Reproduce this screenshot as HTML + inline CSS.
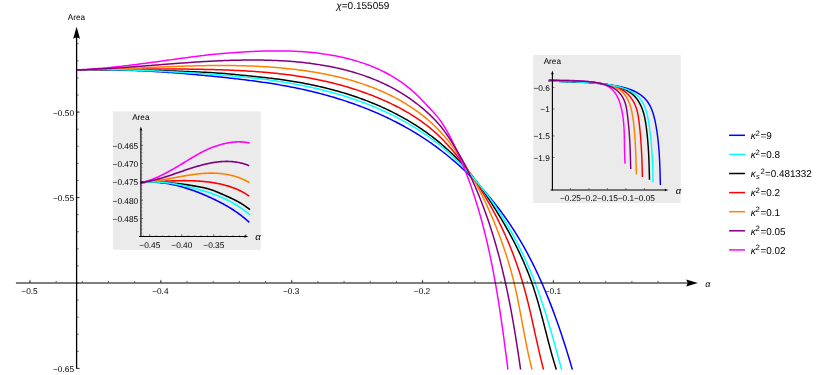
<!DOCTYPE html>
<html><head><meta charset="utf-8"><title>plot</title>
<style>html,body{margin:0;padding:0;background:#fff;}svg{display:block;}text{filter:grayscale(1);text-rendering:geometricPrecision;}text{font-family:"Liberation Sans",sans-serif;}</style></head>
<body>
<svg width="817" height="375" viewBox="0 0 817 375" font-family="Liberation Sans, sans-serif">
<rect width="100%" height="100%" fill="#fff"/>
<defs><clipPath id="cm"><rect x="0" y="0" width="817" height="369.7"/></clipPath></defs>
<text x="336.3" y="9.3" font-size="10" fill="#000"><tspan font-style="italic">χ</tspan>=0.155059</text>
<g fill="none" stroke-width="1.5" stroke-linejoin="round" clip-path="url(#cm)">
<path d="M76.80 69.88 L78.41 69.85 L80.01 69.81 L81.62 69.79 L83.22 69.76 L84.83 69.74 L86.43 69.72 L88.04 69.71 L89.64 69.69 L91.25 69.68 L92.85 69.68 L94.46 69.67 L96.06 69.67 L97.67 69.67 L99.27 69.68 L100.88 69.69 L102.48 69.70 L104.09 69.71 L105.69 69.73 L107.30 69.75 L108.90 69.77 L110.51 69.80 L112.11 69.83 L113.71 69.86 L115.32 69.89 L116.92 69.93 L118.53 69.96 L120.13 70.01 L121.73 70.05 L123.34 70.10 L124.94 70.15 L126.54 70.20 L128.15 70.25 L129.75 70.31 L131.35 70.37 L132.96 70.43 L134.56 70.50 L136.16 70.56 L137.76 70.63 L139.37 70.70 L140.97 70.78 L142.57 70.86 L144.17 70.93 L145.77 71.02 L147.38 71.10 L148.98 71.19 L150.58 71.27 L152.18 71.36 L153.78 71.46 L155.38 71.55 L156.98 71.65 L158.59 71.75 L160.19 71.85 L161.79 71.95 L163.39 72.06 L164.99 72.17 L166.59 72.28 L168.19 72.39 L169.79 72.50 L171.39 72.62 L172.99 72.74 L174.59 72.86 L176.18 72.98 L177.78 73.10 L179.38 73.23 L180.98 73.36 L182.58 73.49 L184.18 73.62 L185.78 73.75 L187.37 73.89 L188.97 74.02 L190.57 74.16 L192.17 74.30 L193.76 74.45 L195.36 74.59 L196.96 74.74 L198.55 74.88 L200.15 75.03 L201.75 75.18 L203.34 75.34 L204.94 75.49 L206.54 75.64 L208.13 75.80 L209.73 75.96 L211.32 76.12 L212.92 76.28 L214.51 76.44 L216.11 76.61 L217.70 76.77 L219.29 76.94 L220.89 77.11 L222.48 77.28 L224.08 77.45 L225.67 77.62 L227.26 77.80 L228.85 77.97 L230.45 78.15 L232.04 78.33 L233.63 78.51 L235.22 78.69 L236.81 78.88 L238.41 79.06 L240.00 79.25 L241.59 79.44 L243.18 79.63 L244.77 79.83 L246.36 80.03 L247.95 80.22 L249.53 80.43 L251.12 80.63 L252.71 80.84 L254.30 81.05 L255.89 81.26 L257.47 81.48 L259.06 81.70 L260.64 81.92 L262.23 82.15 L263.81 82.38 L265.40 82.61 L266.98 82.85 L268.57 83.09 L270.15 83.33 L271.73 83.58 L273.31 83.83 L274.89 84.09 L276.47 84.35 L278.05 84.61 L279.63 84.88 L281.21 85.16 L282.79 85.43 L284.37 85.71 L285.95 86.00 L287.52 86.29 L289.10 86.59 L290.67 86.89 L292.25 87.20 L293.82 87.51 L295.39 87.82 L296.97 88.14 L298.54 88.47 L300.11 88.80 L301.68 89.14 L303.25 89.48 L304.82 89.83 L306.38 90.18 L307.95 90.54 L309.52 90.91 L311.08 91.28 L312.64 91.66 L314.21 92.04 L315.77 92.43 L317.33 92.82 L318.88 93.22 L320.44 93.62 L322.00 94.03 L323.55 94.45 L325.10 94.87 L326.66 95.30 L328.21 95.74 L329.75 96.18 L331.30 96.62 L332.84 97.07 L334.39 97.53 L335.93 98.00 L337.47 98.47 L339.00 98.94 L340.54 99.42 L342.07 99.91 L343.60 100.41 L345.13 100.91 L346.66 101.41 L348.18 101.93 L349.71 102.45 L351.23 102.97 L352.74 103.50 L354.26 104.04 L355.77 104.59 L357.28 105.14 L358.79 105.69 L360.29 106.26 L361.80 106.83 L363.30 107.40 L364.79 107.99 L366.29 108.58 L367.78 109.17 L369.27 109.77 L370.75 110.38 L372.23 111.00 L373.71 111.62 L375.19 112.25 L376.66 112.89 L378.13 113.53 L379.60 114.18 L381.06 114.84 L382.52 115.50 L383.98 116.17 L385.43 116.84 L386.88 117.53 L388.33 118.22 L389.77 118.91 L391.21 119.62 L392.64 120.33 L394.08 121.05 L395.50 121.77 L396.93 122.51 L398.35 123.24 L399.76 123.99 L401.18 124.74 L402.58 125.50 L403.99 126.27 L405.39 127.05 L406.78 127.83 L408.17 128.62 L409.56 129.42 L410.94 130.22 L412.32 131.03 L413.70 131.85 L415.07 132.67 L416.43 133.51 L417.79 134.35 L419.15 135.20 L420.50 136.05 L421.85 136.92 L423.19 137.79 L424.53 138.66 L425.86 139.55 L427.19 140.44 L428.51 141.34 L429.83 142.25 L431.14 143.17 L432.45 144.09 L433.75 145.02 L435.05 145.96 L436.34 146.90 L437.63 147.85 L438.91 148.81 L440.18 149.78 L441.46 150.75 L442.72 151.73 L443.99 152.72 L445.24 153.71 L446.49 154.72 L447.74 155.72 L448.98 156.74 L450.21 157.76 L451.44 158.79 L452.67 159.82 L453.89 160.86 L455.10 161.91 L456.31 162.96 L457.51 164.03 L458.71 165.09 L459.90 166.17 L461.09 167.25 L462.27 168.33 L463.44 169.43 L464.61 170.52 L465.77 171.63 L466.93 172.74 L468.08 173.86 L469.23 174.98 L470.37 176.11 L471.50 177.25 L472.63 178.39 L473.76 179.53 L474.87 180.69 L475.98 181.85 L477.09 183.01 L478.19 184.18 L479.28 185.36 L480.37 186.54 L481.45 187.73 L482.53 188.92 L483.60 190.12 L484.66 191.32 L485.72 192.53 L486.77 193.74 L487.81 194.96 L488.85 196.19 L489.88 197.42 L490.91 198.66 L491.93 199.90 L492.94 201.14 L493.95 202.39 L494.95 203.65 L495.94 204.91 L496.93 206.17 L497.91 207.45 L498.88 208.72 L499.85 210.00 L500.81 211.29 L501.77 212.58 L502.72 213.87 L503.66 215.17 L504.59 216.47 L505.52 217.78 L506.45 219.10 L507.36 220.41 L508.27 221.73 L509.17 223.06 L510.07 224.39 L510.95 225.73 L511.84 227.06 L512.71 228.41 L513.58 229.75 L514.44 231.11 L515.29 232.46 L516.14 233.82 L516.98 235.18 L517.82 236.55 L518.65 237.92 L519.47 239.30 L520.29 240.68 L521.10 242.06 L521.90 243.45 L522.70 244.84 L523.49 246.23 L524.27 247.63 L525.05 249.03 L525.83 250.43 L526.59 251.84 L527.36 253.25 L528.11 254.66 L528.86 256.08 L529.61 257.50 L530.34 258.92 L531.08 260.35 L531.80 261.78 L532.52 263.21 L533.24 264.65 L533.95 266.09 L534.66 267.53 L535.36 268.97 L536.05 270.42 L536.74 271.87 L537.42 273.32 L538.10 274.78 L538.78 276.24 L539.44 277.70 L540.11 279.16 L540.77 280.62 L541.42 282.09 L542.07 283.56 L542.71 285.03 L543.35 286.51 L543.98 287.99 L544.61 289.46 L545.24 290.95 L545.86 292.43 L546.47 293.91 L547.08 295.40 L547.69 296.89 L548.29 298.38 L548.89 299.87 L549.48 301.37 L550.07 302.86 L550.66 304.36 L551.24 305.86 L551.81 307.36 L552.38 308.87 L552.95 310.37 L553.52 311.88 L554.08 313.38 L554.63 314.89 L555.18 316.40 L555.73 317.91 L556.28 319.42 L556.82 320.94 L557.36 322.45 L557.89 323.97 L558.42 325.48 L558.95 327.00 L559.47 328.52 L559.99 330.04 L560.50 331.56 L561.02 333.08 L561.53 334.60 L562.03 336.12 L562.53 337.65 L563.03 339.17 L563.53 340.69 L564.02 342.22 L564.51 343.74 L565.00 345.27 L565.49 346.80 L565.97 348.32 L566.45 349.85 L566.92 351.38 L567.39 352.90 L567.86 354.43 L568.33 355.96 L568.80 357.48 L569.26 359.01 L569.72 360.54 L570.18 362.06 L570.63 363.59 L571.08 365.12 L571.53 366.64 L571.98 368.17 L572.43 369.69" stroke="#0000ff"/>
<path d="M76.80 69.89 L78.40 69.87 L80.00 69.85 L81.59 69.84 L83.19 69.82 L84.79 69.80 L86.39 69.79 L87.99 69.78 L89.58 69.77 L91.18 69.76 L92.78 69.75 L94.38 69.74 L95.98 69.74 L97.57 69.74 L99.17 69.73 L100.77 69.73 L102.37 69.73 L103.97 69.73 L105.56 69.74 L107.16 69.74 L108.76 69.75 L110.36 69.75 L111.96 69.76 L113.55 69.77 L115.15 69.78 L116.75 69.80 L118.35 69.81 L119.95 69.82 L121.54 69.84 L123.14 69.86 L124.74 69.88 L126.34 69.90 L127.94 69.92 L129.53 69.94 L131.13 69.96 L132.73 69.99 L134.33 70.01 L135.93 70.04 L137.52 70.07 L139.12 70.10 L140.72 70.13 L142.32 70.16 L143.91 70.20 L145.51 70.23 L147.11 70.27 L148.71 70.30 L150.30 70.34 L151.90 70.38 L153.50 70.42 L155.10 70.46 L156.69 70.50 L158.29 70.55 L159.89 70.59 L161.49 70.64 L163.08 70.68 L164.68 70.73 L166.28 70.78 L167.88 70.83 L169.47 70.88 L171.07 70.94 L172.67 70.99 L174.27 71.04 L175.86 71.10 L177.46 71.16 L179.06 71.21 L180.65 71.27 L182.25 71.33 L183.85 71.39 L185.45 71.46 L187.04 71.52 L188.64 71.58 L190.24 71.65 L191.83 71.71 L193.43 71.78 L195.03 71.85 L196.62 71.92 L198.22 71.99 L199.82 72.06 L201.41 72.13 L203.01 72.21 L204.61 72.28 L206.20 72.36 L207.80 72.45 L209.39 72.53 L210.99 72.62 L212.58 72.71 L214.18 72.81 L215.77 72.91 L217.37 73.02 L218.96 73.13 L220.56 73.24 L222.15 73.36 L223.74 73.49 L225.33 73.62 L226.93 73.76 L228.52 73.90 L230.11 74.04 L231.70 74.19 L233.29 74.34 L234.88 74.50 L236.47 74.66 L238.06 74.81 L239.65 74.97 L241.24 75.13 L242.83 75.29 L244.41 75.45 L246.00 75.61 L247.59 75.77 L249.18 75.93 L250.76 76.09 L252.35 76.25 L253.93 76.41 L255.52 76.57 L257.11 76.74 L258.69 76.90 L260.28 77.07 L261.86 77.24 L263.45 77.41 L265.03 77.59 L266.62 77.76 L268.20 77.94 L269.78 78.13 L271.37 78.32 L272.95 78.51 L274.54 78.70 L276.12 78.90 L277.70 79.11 L279.29 79.32 L280.87 79.53 L282.45 79.75 L284.04 79.98 L285.62 80.21 L287.20 80.45 L288.79 80.69 L290.37 80.94 L291.95 81.19 L293.53 81.45 L295.11 81.71 L296.69 81.98 L298.27 82.25 L299.85 82.54 L301.43 82.82 L303.01 83.11 L304.58 83.41 L306.16 83.72 L307.73 84.03 L309.31 84.34 L310.88 84.66 L312.45 84.99 L314.02 85.32 L315.59 85.66 L317.16 86.01 L318.72 86.36 L320.29 86.72 L321.85 87.09 L323.41 87.46 L324.97 87.84 L326.53 88.22 L328.08 88.61 L329.64 89.01 L331.19 89.41 L332.74 89.82 L334.29 90.24 L335.84 90.66 L337.38 91.09 L338.92 91.53 L340.46 91.97 L342.00 92.42 L343.54 92.88 L345.07 93.34 L346.60 93.82 L348.13 94.29 L349.65 94.78 L351.18 95.27 L352.70 95.77 L354.21 96.28 L355.73 96.79 L357.24 97.31 L358.75 97.84 L360.26 98.38 L361.76 98.92 L363.26 99.47 L364.76 100.03 L366.25 100.60 L367.74 101.17 L369.23 101.75 L370.71 102.34 L372.19 102.94 L373.67 103.54 L375.14 104.15 L376.61 104.77 L378.08 105.40 L379.54 106.04 L381.00 106.68 L382.46 107.33 L383.91 107.99 L385.36 108.66 L386.80 109.33 L388.24 110.02 L389.67 110.71 L391.11 111.41 L392.53 112.12 L393.95 112.84 L395.37 113.56 L396.79 114.29 L398.20 115.04 L399.60 115.79 L401.00 116.55 L402.40 117.31 L403.79 118.09 L405.18 118.88 L406.56 119.67 L407.93 120.47 L409.31 121.28 L410.67 122.10 L412.03 122.93 L413.39 123.77 L414.74 124.62 L416.09 125.47 L417.43 126.34 L418.77 127.21 L420.10 128.09 L421.42 128.99 L422.74 129.89 L424.06 130.80 L425.37 131.72 L426.67 132.65 L427.97 133.59 L429.26 134.53 L430.54 135.49 L431.82 136.45 L433.09 137.43 L434.36 138.41 L435.62 139.40 L436.87 140.40 L438.12 141.41 L439.36 142.43 L440.59 143.45 L441.81 144.49 L443.03 145.53 L444.24 146.58 L445.45 147.64 L446.64 148.70 L447.83 149.78 L449.01 150.86 L450.18 151.95 L451.35 153.05 L452.50 154.16 L453.65 155.27 L454.79 156.40 L455.93 157.53 L457.05 158.66 L458.16 159.81 L459.27 160.96 L460.37 162.12 L461.46 163.29 L462.54 164.47 L463.61 165.65 L464.67 166.84 L465.72 168.04 L466.76 169.24 L467.80 170.46 L468.82 171.67 L469.83 172.90 L470.84 174.13 L471.83 175.37 L472.82 176.62 L473.80 177.87 L474.77 179.13 L475.73 180.39 L476.68 181.66 L477.63 182.94 L478.57 184.22 L479.50 185.51 L480.42 186.80 L481.34 188.09 L482.26 189.39 L483.16 190.70 L484.07 192.00 L484.96 193.32 L485.85 194.63 L486.74 195.95 L487.62 197.28 L488.50 198.61 L489.38 199.94 L490.25 201.27 L491.11 202.60 L491.98 203.94 L492.84 205.29 L493.69 206.63 L494.55 207.98 L495.40 209.33 L496.24 210.68 L497.08 212.04 L497.92 213.39 L498.75 214.76 L499.58 216.12 L500.40 217.49 L501.22 218.86 L502.04 220.23 L502.85 221.61 L503.66 222.98 L504.46 224.37 L505.26 225.75 L506.05 227.14 L506.84 228.53 L507.62 229.92 L508.40 231.32 L509.17 232.71 L509.93 234.12 L510.69 235.52 L511.45 236.93 L512.20 238.34 L512.94 239.75 L513.68 241.17 L514.41 242.59 L515.14 244.01 L515.86 245.44 L516.57 246.86 L517.28 248.29 L517.98 249.73 L518.68 251.17 L519.36 252.61 L520.05 254.05 L520.72 255.50 L521.39 256.95 L522.05 258.40 L522.70 259.85 L523.35 261.31 L523.99 262.77 L524.62 264.24 L525.24 265.71 L525.86 267.18 L526.47 268.65 L527.07 270.13 L527.67 271.61 L528.25 273.09 L528.83 274.58 L529.40 276.07 L529.97 277.56 L530.52 279.05 L531.06 280.55 L531.60 282.05 L532.13 283.56 L532.65 285.07 L533.16 286.58 L533.67 288.09 L534.16 289.61 L534.65 291.13 L535.14 292.65 L535.61 294.17 L536.08 295.70 L536.54 297.23 L537.00 298.76 L537.45 300.29 L537.90 301.83 L538.34 303.37 L538.77 304.91 L539.21 306.45 L539.63 307.99 L540.06 309.53 L540.48 311.08 L540.89 312.62 L541.31 314.17 L541.72 315.72 L542.12 317.26 L542.53 318.81 L542.93 320.36 L543.33 321.92 L543.73 323.47 L544.13 325.02 L544.53 326.57 L544.92 328.12 L545.32 329.67 L545.72 331.23 L546.11 332.78 L546.51 334.33 L546.91 335.88 L547.31 337.43 L547.71 338.98 L548.11 340.53 L548.51 342.08 L548.92 343.63 L549.32 345.17 L549.73 346.72 L550.15 348.26 L550.56 349.81 L550.98 351.35 L551.41 352.89 L551.84 354.43 L552.27 355.96 L552.70 357.50 L553.15 359.03 L553.59 360.56 L554.04 362.09 L554.50 363.62 L554.97 365.14 L555.43 366.66 L555.91 368.18 L556.39 369.70" stroke="#000000"/>
<path d="M76.80 69.89 L78.40 69.87 L79.99 69.85 L81.59 69.84 L83.18 69.82 L84.78 69.80 L86.38 69.78 L87.97 69.76 L89.57 69.74 L91.17 69.72 L92.76 69.70 L94.36 69.67 L95.96 69.65 L97.55 69.63 L99.15 69.61 L100.75 69.59 L102.34 69.57 L103.94 69.55 L105.54 69.53 L107.14 69.51 L108.73 69.49 L110.33 69.47 L111.93 69.45 L113.52 69.42 L115.12 69.40 L116.72 69.38 L118.32 69.37 L119.91 69.35 L121.51 69.33 L123.11 69.31 L124.71 69.29 L126.31 69.27 L127.90 69.25 L129.50 69.24 L131.10 69.22 L132.70 69.20 L134.29 69.19 L135.89 69.17 L137.49 69.16 L139.09 69.14 L140.68 69.13 L142.28 69.12 L143.88 69.11 L145.48 69.10 L147.08 69.08 L148.67 69.07 L150.27 69.07 L151.87 69.06 L153.47 69.05 L155.06 69.04 L156.66 69.04 L158.26 69.03 L159.86 69.03 L161.46 69.02 L163.05 69.02 L164.65 69.02 L166.25 69.02 L167.85 69.02 L169.44 69.02 L171.04 69.03 L172.64 69.03 L174.24 69.04 L175.83 69.04 L177.43 69.05 L179.03 69.06 L180.62 69.07 L182.22 69.08 L183.82 69.09 L185.42 69.11 L187.01 69.12 L188.61 69.14 L190.21 69.16 L191.80 69.18 L193.40 69.20 L195.00 69.22 L196.59 69.25 L198.19 69.27 L199.79 69.30 L201.38 69.33 L202.98 69.36 L204.58 69.39 L206.17 69.42 L207.77 69.46 L209.36 69.50 L210.96 69.54 L212.56 69.58 L214.15 69.62 L215.75 69.67 L217.34 69.71 L218.94 69.76 L220.53 69.81 L222.13 69.87 L223.73 69.92 L225.32 69.98 L226.92 70.04 L228.51 70.10 L230.11 70.17 L231.70 70.24 L233.30 70.31 L234.90 70.38 L236.49 70.45 L238.09 70.53 L239.68 70.61 L241.28 70.69 L242.87 70.78 L244.47 70.87 L246.06 70.96 L247.66 71.05 L249.26 71.15 L250.85 71.25 L252.45 71.35 L254.04 71.46 L255.64 71.57 L257.23 71.68 L258.83 71.80 L260.42 71.92 L262.01 72.04 L263.61 72.17 L265.20 72.30 L266.79 72.44 L268.38 72.58 L269.98 72.73 L271.57 72.88 L273.16 73.03 L274.75 73.19 L276.34 73.36 L277.93 73.53 L279.52 73.70 L281.10 73.88 L282.69 74.07 L284.28 74.26 L285.86 74.45 L287.45 74.66 L289.03 74.86 L290.62 75.07 L292.20 75.29 L293.78 75.52 L295.36 75.75 L296.94 75.98 L298.52 76.22 L300.09 76.47 L301.67 76.72 L303.25 76.98 L304.82 77.24 L306.39 77.51 L307.96 77.79 L309.53 78.07 L311.10 78.36 L312.67 78.66 L314.24 78.96 L315.80 79.27 L317.36 79.58 L318.92 79.90 L320.48 80.23 L322.04 80.56 L323.60 80.90 L325.16 81.25 L326.71 81.60 L328.26 81.96 L329.81 82.33 L331.36 82.70 L332.91 83.08 L334.45 83.47 L336.00 83.86 L337.54 84.26 L339.08 84.67 L340.61 85.09 L342.15 85.51 L343.68 85.94 L345.21 86.38 L346.74 86.83 L348.27 87.28 L349.79 87.74 L351.32 88.20 L352.84 88.68 L354.36 89.16 L355.87 89.65 L357.39 90.15 L358.90 90.66 L360.41 91.17 L361.91 91.69 L363.42 92.22 L364.92 92.76 L366.42 93.30 L367.91 93.85 L369.41 94.42 L370.90 94.99 L372.39 95.56 L373.87 96.15 L375.35 96.74 L376.84 97.35 L378.31 97.96 L379.79 98.58 L381.26 99.20 L382.73 99.84 L384.19 100.49 L385.65 101.14 L387.11 101.80 L388.57 102.48 L390.02 103.16 L391.46 103.85 L392.90 104.55 L394.34 105.26 L395.77 105.98 L397.20 106.71 L398.62 107.45 L400.03 108.20 L401.44 108.96 L402.85 109.73 L404.24 110.51 L405.63 111.30 L407.02 112.10 L408.40 112.91 L409.77 113.73 L411.13 114.57 L412.49 115.41 L413.84 116.27 L415.18 117.13 L416.51 118.01 L417.83 118.90 L419.15 119.80 L420.46 120.71 L421.75 121.64 L423.04 122.58 L424.32 123.53 L425.60 124.49 L426.86 125.46 L428.11 126.45 L429.35 127.44 L430.58 128.45 L431.80 129.47 L433.01 130.51 L434.21 131.55 L435.40 132.61 L436.58 133.68 L437.75 134.76 L438.91 135.86 L440.06 136.96 L441.19 138.08 L442.32 139.21 L443.43 140.35 L444.54 141.50 L445.64 142.66 L446.72 143.82 L447.80 145.00 L448.87 146.19 L449.93 147.38 L450.98 148.58 L452.02 149.80 L453.05 151.01 L454.08 152.24 L455.09 153.47 L456.10 154.71 L457.11 155.96 L458.10 157.21 L459.09 158.47 L460.07 159.74 L461.04 161.01 L462.01 162.28 L462.97 163.56 L463.92 164.85 L464.87 166.14 L465.81 167.43 L466.75 168.73 L467.68 170.03 L468.60 171.33 L469.52 172.64 L470.44 173.94 L471.35 175.26 L472.25 176.57 L473.15 177.89 L474.05 179.21 L474.94 180.53 L475.82 181.86 L476.70 183.19 L477.57 184.52 L478.44 185.85 L479.30 187.19 L480.16 188.54 L481.01 189.88 L481.85 191.23 L482.69 192.58 L483.52 193.94 L484.35 195.29 L485.17 196.66 L485.99 198.02 L486.80 199.39 L487.60 200.76 L488.40 202.14 L489.20 203.52 L489.98 204.90 L490.76 206.29 L491.54 207.68 L492.31 209.07 L493.07 210.47 L493.82 211.87 L494.57 213.28 L495.32 214.69 L496.06 216.10 L496.79 217.52 L497.51 218.94 L498.23 220.36 L498.94 221.79 L499.65 223.22 L500.35 224.66 L501.04 226.09 L501.73 227.53 L502.41 228.98 L503.09 230.43 L503.76 231.88 L504.42 233.33 L505.08 234.79 L505.73 236.25 L506.37 237.71 L507.01 239.17 L507.64 240.64 L508.26 242.11 L508.88 243.59 L509.49 245.07 L510.10 246.55 L510.70 248.03 L511.29 249.51 L511.88 251.00 L512.46 252.49 L513.03 253.98 L513.60 255.48 L514.16 256.98 L514.72 258.48 L515.27 259.98 L515.81 261.48 L516.34 262.99 L516.87 264.50 L517.39 266.01 L517.91 267.52 L518.42 269.04 L518.92 270.56 L519.42 272.08 L519.91 273.60 L520.39 275.12 L520.87 276.64 L521.34 278.17 L521.81 279.70 L522.26 281.23 L522.72 282.76 L523.16 284.30 L523.60 285.83 L524.03 287.37 L524.46 288.90 L524.88 290.44 L525.29 291.98 L525.70 293.53 L526.11 295.07 L526.51 296.61 L526.90 298.16 L527.29 299.71 L527.68 301.26 L528.06 302.80 L528.44 304.35 L528.81 305.91 L529.19 307.46 L529.55 309.01 L529.92 310.56 L530.28 312.12 L530.64 313.67 L531.00 315.23 L531.35 316.78 L531.70 318.34 L532.06 319.90 L532.41 321.46 L532.75 323.01 L533.10 324.57 L533.45 326.13 L533.79 327.69 L534.14 329.25 L534.48 330.81 L534.82 332.37 L535.17 333.93 L535.51 335.49 L535.86 337.05 L536.20 338.61 L536.55 340.17 L536.90 341.73 L537.25 343.28 L537.60 344.84 L537.95 346.40 L538.30 347.96 L538.66 349.52 L539.02 351.07 L539.38 352.63 L539.74 354.19 L540.11 355.74 L540.48 357.30 L540.85 358.85 L541.23 360.40 L541.61 361.96 L542.00 363.51 L542.38 365.06 L542.78 366.61 L543.18 368.16 L543.58 369.71" stroke="#ff0000"/>
<path d="M76.80 69.85 L78.40 69.83 L80.00 69.81 L81.60 69.79 L83.19 69.76 L84.79 69.73 L86.39 69.70 L87.99 69.67 L89.59 69.64 L91.19 69.61 L92.79 69.57 L94.39 69.53 L95.99 69.49 L97.59 69.45 L99.19 69.40 L100.79 69.36 L102.39 69.31 L103.99 69.26 L105.59 69.21 L107.18 69.16 L108.78 69.10 L110.38 69.05 L111.98 68.99 L113.58 68.94 L115.18 68.88 L116.78 68.82 L118.38 68.76 L119.98 68.70 L121.58 68.64 L123.18 68.57 L124.78 68.51 L126.39 68.45 L127.99 68.38 L129.59 68.32 L131.19 68.25 L132.79 68.18 L134.39 68.12 L135.99 68.05 L137.59 67.98 L139.19 67.91 L140.79 67.85 L142.39 67.78 L143.99 67.71 L145.59 67.64 L147.19 67.57 L148.79 67.51 L150.39 67.44 L151.99 67.37 L153.59 67.30 L155.19 67.24 L156.79 67.17 L158.39 67.10 L159.99 67.04 L161.59 66.97 L163.20 66.91 L164.80 66.84 L166.40 66.78 L168.00 66.72 L169.60 66.66 L171.20 66.60 L172.80 66.54 L174.40 66.48 L176.00 66.42 L177.60 66.37 L179.20 66.31 L180.80 66.26 L182.40 66.21 L184.00 66.16 L185.60 66.11 L187.20 66.06 L188.80 66.01 L190.40 65.97 L192.00 65.92 L193.60 65.88 L195.20 65.84 L196.80 65.81 L198.40 65.77 L200.00 65.74 L201.60 65.70 L203.20 65.68 L204.80 65.65 L206.40 65.62 L208.00 65.60 L209.60 65.58 L211.20 65.56 L212.80 65.54 L214.40 65.53 L216.00 65.52 L217.60 65.51 L219.20 65.51 L220.80 65.50 L222.40 65.50 L224.00 65.51 L225.60 65.51 L227.19 65.52 L228.79 65.53 L230.39 65.55 L231.99 65.57 L233.59 65.59 L235.19 65.61 L236.79 65.64 L238.39 65.67 L239.99 65.71 L241.58 65.74 L243.18 65.79 L244.78 65.83 L246.38 65.88 L247.98 65.93 L249.57 65.99 L251.17 66.05 L252.77 66.11 L254.37 66.18 L255.97 66.25 L257.56 66.33 L259.16 66.41 L260.76 66.49 L262.36 66.58 L263.95 66.68 L265.55 66.77 L267.15 66.87 L268.74 66.98 L270.34 67.09 L271.94 67.21 L273.53 67.33 L275.13 67.45 L276.73 67.58 L278.32 67.72 L279.92 67.86 L281.51 68.00 L283.11 68.15 L284.71 68.30 L286.30 68.46 L287.90 68.63 L289.49 68.80 L291.09 68.97 L292.68 69.15 L294.28 69.34 L295.87 69.53 L297.47 69.73 L299.06 69.93 L300.66 70.14 L302.25 70.35 L303.85 70.57 L305.44 70.80 L307.03 71.03 L308.62 71.27 L310.22 71.51 L311.81 71.76 L313.40 72.02 L314.99 72.28 L316.57 72.55 L318.16 72.83 L319.75 73.11 L321.33 73.40 L322.91 73.70 L324.50 74.00 L326.08 74.31 L327.65 74.63 L329.23 74.96 L330.80 75.29 L332.38 75.63 L333.95 75.98 L335.52 76.33 L337.08 76.70 L338.65 77.07 L340.21 77.45 L341.77 77.83 L343.32 78.23 L344.88 78.63 L346.43 79.04 L347.97 79.46 L349.52 79.89 L351.06 80.33 L352.60 80.77 L354.13 81.23 L355.67 81.69 L357.19 82.16 L358.72 82.65 L360.24 83.14 L361.76 83.64 L363.27 84.15 L364.78 84.66 L366.29 85.19 L367.79 85.73 L369.29 86.28 L370.78 86.83 L372.27 87.40 L373.75 87.98 L375.23 88.56 L376.71 89.16 L378.18 89.77 L379.64 90.38 L381.10 91.01 L382.56 91.65 L384.01 92.30 L385.45 92.96 L386.89 93.63 L388.33 94.31 L389.76 95.00 L391.18 95.71 L392.60 96.42 L394.01 97.15 L395.42 97.88 L396.82 98.63 L398.21 99.39 L399.60 100.16 L400.98 100.95 L402.36 101.74 L403.73 102.55 L405.09 103.37 L406.45 104.20 L407.80 105.04 L409.14 105.90 L410.47 106.76 L411.80 107.64 L413.12 108.54 L414.44 109.44 L415.75 110.36 L417.05 111.29 L418.34 112.23 L419.62 113.19 L420.90 114.16 L422.17 115.14 L423.43 116.14 L424.69 117.14 L425.93 118.17 L427.17 119.20 L428.40 120.25 L429.61 121.31 L430.82 122.38 L432.01 123.47 L433.20 124.56 L434.37 125.67 L435.52 126.79 L436.67 127.92 L437.80 129.06 L438.91 130.21 L440.02 131.37 L441.10 132.55 L442.17 133.73 L443.23 134.92 L444.27 136.12 L445.30 137.34 L446.32 138.56 L447.33 139.78 L448.32 141.02 L449.30 142.27 L450.27 143.52 L451.23 144.78 L452.18 146.05 L453.12 147.33 L454.05 148.61 L454.98 149.91 L455.89 151.20 L456.80 152.51 L457.70 153.81 L458.59 155.13 L459.48 156.45 L460.36 157.78 L461.24 159.11 L462.11 160.44 L462.97 161.78 L463.83 163.13 L464.69 164.48 L465.54 165.83 L466.38 167.19 L467.22 168.55 L468.06 169.91 L468.88 171.28 L469.71 172.66 L470.52 174.03 L471.33 175.42 L472.13 176.80 L472.93 178.19 L473.72 179.58 L474.50 180.98 L475.28 182.38 L476.05 183.78 L476.81 185.19 L477.56 186.59 L478.31 188.01 L479.05 189.42 L479.78 190.84 L480.51 192.26 L481.23 193.69 L481.94 195.11 L482.65 196.54 L483.35 197.98 L484.04 199.41 L484.73 200.85 L485.41 202.29 L486.09 203.74 L486.76 205.18 L487.43 206.63 L488.09 208.09 L488.75 209.54 L489.40 211.00 L490.04 212.46 L490.68 213.92 L491.32 215.38 L491.95 216.85 L492.58 218.32 L493.20 219.79 L493.82 221.27 L494.43 222.74 L495.03 224.22 L495.63 225.71 L496.23 227.19 L496.82 228.68 L497.40 230.16 L497.98 231.66 L498.56 233.15 L499.13 234.64 L499.69 236.14 L500.25 237.64 L500.80 239.14 L501.34 240.65 L501.89 242.15 L502.42 243.66 L502.95 245.17 L503.47 246.68 L503.99 248.19 L504.50 249.71 L505.01 251.23 L505.51 252.75 L506.01 254.27 L506.50 255.79 L506.98 257.32 L507.46 258.85 L507.93 260.38 L508.39 261.91 L508.85 263.44 L509.30 264.97 L509.75 266.51 L510.19 268.05 L510.62 269.59 L511.05 271.13 L511.47 272.67 L511.89 274.22 L512.29 275.76 L512.70 277.31 L513.09 278.86 L513.48 280.41 L513.86 281.96 L514.24 283.52 L514.61 285.07 L514.97 286.63 L515.33 288.19 L515.68 289.75 L516.03 291.31 L516.37 292.87 L516.71 294.44 L517.04 296.00 L517.36 297.57 L517.69 299.13 L518.01 300.70 L518.32 302.27 L518.63 303.84 L518.94 305.41 L519.25 306.98 L519.55 308.55 L519.85 310.12 L520.15 311.69 L520.45 313.26 L520.75 314.84 L521.04 316.41 L521.33 317.98 L521.63 319.56 L521.92 321.13 L522.21 322.70 L522.50 324.28 L522.79 325.85 L523.09 327.43 L523.38 329.00 L523.67 330.57 L523.97 332.15 L524.26 333.72 L524.56 335.29 L524.86 336.87 L525.17 338.44 L525.47 340.01 L525.78 341.58 L526.09 343.15 L526.41 344.72 L526.72 346.29 L527.05 347.86 L527.37 349.43 L527.70 350.99 L528.04 352.56 L528.38 354.12 L528.72 355.69 L529.07 357.25 L529.43 358.81 L529.79 360.37 L530.16 361.93 L530.53 363.49 L530.91 365.04 L531.30 366.60 L531.70 368.15 L532.10 369.70" stroke="#ff8000"/>
<path d="M76.80 69.90 L78.40 69.86 L80.00 69.82 L81.60 69.78 L83.20 69.75 L84.80 69.72 L86.40 69.70 L88.00 69.68 L89.60 69.66 L91.20 69.64 L92.80 69.63 L94.40 69.61 L96.00 69.61 L97.60 69.60 L99.20 69.60 L100.80 69.59 L102.40 69.60 L104.00 69.60 L105.60 69.61 L107.20 69.62 L108.80 69.63 L110.40 69.64 L112.00 69.66 L113.60 69.68 L115.20 69.70 L116.80 69.73 L118.39 69.75 L119.99 69.78 L121.59 69.81 L123.19 69.84 L124.79 69.88 L126.39 69.92 L127.99 69.96 L129.59 70.00 L131.19 70.04 L132.79 70.09 L134.39 70.14 L135.99 70.19 L137.58 70.24 L139.18 70.29 L140.78 70.35 L142.38 70.40 L143.98 70.46 L145.58 70.52 L147.18 70.59 L148.77 70.65 L150.37 70.72 L151.97 70.78 L153.57 70.85 L155.17 70.93 L156.77 71.00 L158.36 71.07 L159.96 71.15 L161.56 71.23 L163.16 71.31 L164.75 71.39 L166.35 71.47 L167.95 71.55 L169.55 71.63 L171.14 71.72 L172.74 71.81 L174.34 71.90 L175.94 71.99 L177.53 72.08 L179.13 72.17 L180.73 72.26 L182.32 72.36 L183.92 72.45 L185.52 72.55 L187.11 72.64 L188.71 72.74 L190.31 72.84 L191.90 72.94 L193.50 73.04 L195.10 73.15 L196.69 73.25 L198.29 73.35 L199.88 73.46 L201.48 73.56 L203.07 73.67 L204.67 73.78 L206.26 73.89 L207.86 74.00 L209.46 74.11 L211.05 74.22 L212.64 74.34 L214.24 74.46 L215.83 74.57 L217.43 74.69 L219.02 74.82 L220.61 74.94 L222.21 75.06 L223.80 75.19 L225.39 75.32 L226.99 75.45 L228.58 75.59 L230.17 75.72 L231.76 75.86 L233.36 76.00 L234.95 76.14 L236.54 76.29 L238.13 76.44 L239.72 76.59 L241.31 76.74 L242.90 76.90 L244.49 77.06 L246.08 77.22 L247.67 77.39 L249.26 77.55 L250.84 77.73 L252.43 77.90 L254.02 78.08 L255.61 78.26 L257.19 78.44 L258.78 78.63 L260.37 78.82 L261.95 79.02 L263.54 79.22 L265.12 79.42 L266.71 79.63 L268.29 79.84 L269.87 80.06 L271.46 80.27 L273.04 80.50 L274.62 80.72 L276.20 80.96 L277.78 81.19 L279.36 81.43 L280.94 81.68 L282.52 81.93 L284.10 82.18 L285.68 82.44 L287.26 82.70 L288.84 82.97 L290.41 83.24 L291.99 83.52 L293.57 83.80 L295.14 84.09 L296.72 84.38 L298.29 84.68 L299.87 84.99 L301.44 85.30 L303.01 85.61 L304.58 85.93 L306.15 86.26 L307.72 86.59 L309.29 86.92 L310.86 87.27 L312.43 87.61 L313.99 87.97 L315.56 88.33 L317.12 88.69 L318.68 89.06 L320.25 89.44 L321.81 89.82 L323.36 90.21 L324.92 90.60 L326.48 91.00 L328.03 91.41 L329.58 91.82 L331.13 92.24 L332.68 92.66 L334.23 93.10 L335.77 93.53 L337.31 93.98 L338.86 94.43 L340.39 94.88 L341.93 95.34 L343.47 95.81 L345.00 96.29 L346.53 96.77 L348.05 97.26 L349.58 97.75 L351.10 98.25 L352.62 98.76 L354.14 99.28 L355.65 99.80 L357.17 100.33 L358.68 100.86 L360.18 101.41 L361.69 101.96 L363.19 102.51 L364.68 103.07 L366.18 103.64 L367.67 104.22 L369.16 104.81 L370.64 105.40 L372.12 106.00 L373.60 106.60 L375.08 107.22 L376.55 107.84 L378.02 108.46 L379.48 109.10 L380.94 109.74 L382.40 110.39 L383.85 111.05 L385.30 111.72 L386.75 112.39 L388.19 113.07 L389.63 113.76 L391.06 114.45 L392.49 115.16 L393.91 115.87 L395.33 116.59 L396.75 117.31 L398.16 118.05 L399.57 118.79 L400.97 119.54 L402.37 120.30 L403.77 121.07 L405.16 121.84 L406.54 122.63 L407.92 123.42 L409.30 124.22 L410.67 125.03 L412.03 125.84 L413.39 126.67 L414.75 127.50 L416.10 128.34 L417.45 129.19 L418.79 130.05 L420.12 130.92 L421.45 131.79 L422.77 132.68 L424.09 133.57 L425.40 134.47 L426.71 135.38 L428.01 136.30 L429.31 137.23 L430.60 138.17 L431.88 139.11 L433.16 140.07 L434.44 141.03 L435.70 142.00 L436.96 142.98 L438.22 143.96 L439.47 144.96 L440.71 145.96 L441.94 146.98 L443.17 148.00 L444.40 149.02 L445.62 150.06 L446.83 151.10 L448.03 152.16 L449.23 153.22 L450.42 154.28 L451.61 155.36 L452.79 156.44 L453.96 157.53 L455.12 158.62 L456.28 159.73 L457.44 160.84 L458.58 161.96 L459.72 163.08 L460.86 164.21 L461.98 165.35 L463.10 166.50 L464.21 167.65 L465.32 168.81 L466.42 169.97 L467.51 171.14 L468.60 172.32 L469.68 173.50 L470.75 174.69 L471.81 175.89 L472.87 177.09 L473.92 178.30 L474.97 179.51 L476.01 180.73 L477.04 181.95 L478.06 183.19 L479.08 184.42 L480.09 185.66 L481.09 186.91 L482.09 188.16 L483.08 189.42 L484.06 190.68 L485.04 191.95 L486.01 193.22 L486.98 194.50 L487.93 195.78 L488.88 197.07 L489.83 198.36 L490.76 199.66 L491.69 200.96 L492.62 202.26 L493.54 203.57 L494.45 204.89 L495.35 206.21 L496.25 207.53 L497.14 208.86 L498.03 210.19 L498.90 211.52 L499.78 212.86 L500.64 214.21 L501.50 215.55 L502.35 216.91 L503.20 218.26 L504.04 219.62 L504.87 220.98 L505.70 222.35 L506.52 223.72 L507.33 225.09 L508.14 226.47 L508.94 227.85 L509.74 229.23 L510.53 230.62 L511.31 232.01 L512.09 233.41 L512.86 234.81 L513.62 236.21 L514.38 237.61 L515.13 239.02 L515.88 240.43 L516.62 241.85 L517.35 243.26 L518.08 244.68 L518.80 246.11 L519.52 247.54 L520.23 248.97 L520.93 250.40 L521.63 251.84 L522.32 253.27 L523.01 254.72 L523.69 256.16 L524.36 257.61 L525.03 259.06 L525.69 260.51 L526.35 261.97 L527.00 263.43 L527.64 264.89 L528.28 266.35 L528.92 267.82 L529.54 269.29 L530.17 270.76 L530.78 272.23 L531.39 273.71 L532.00 275.19 L532.60 276.67 L533.19 278.15 L533.78 279.64 L534.36 281.13 L534.94 282.62 L535.51 284.11 L536.08 285.60 L536.64 287.10 L537.19 288.60 L537.74 290.10 L538.29 291.60 L538.83 293.11 L539.36 294.61 L539.89 296.12 L540.42 297.63 L540.94 299.14 L541.45 300.66 L541.97 302.17 L542.47 303.69 L542.98 305.21 L543.48 306.73 L543.97 308.25 L544.46 309.77 L544.95 311.29 L545.44 312.82 L545.92 314.35 L546.39 315.87 L546.87 317.40 L547.34 318.93 L547.80 320.46 L548.27 321.99 L548.73 323.53 L549.18 325.06 L549.64 326.60 L550.09 328.13 L550.54 329.67 L550.99 331.20 L551.43 332.74 L551.87 334.28 L552.31 335.82 L552.75 337.36 L553.19 338.90 L553.62 340.44 L554.05 341.98 L554.48 343.52 L554.91 345.06 L555.33 346.61 L555.76 348.15 L556.18 349.69 L556.60 351.23 L557.03 352.78 L557.45 354.32 L557.86 355.86 L558.28 357.41 L558.70 358.95 L559.12 360.49 L559.53 362.03 L559.95 363.57 L560.36 365.12 L560.78 366.66 L561.19 368.20 L561.61 369.74" stroke="#00ffff"/>
<path d="M76.80 69.94 L78.42 69.87 L80.04 69.79 L81.66 69.70 L83.28 69.61 L84.90 69.52 L86.52 69.42 L88.14 69.31 L89.75 69.20 L91.37 69.09 L92.99 68.97 L94.60 68.85 L96.22 68.72 L97.83 68.59 L99.45 68.46 L101.06 68.32 L102.67 68.18 L104.29 68.03 L105.90 67.88 L107.51 67.73 L109.12 67.57 L110.74 67.41 L112.35 67.24 L113.96 67.08 L115.57 66.91 L117.18 66.73 L118.79 66.55 L120.40 66.38 L122.01 66.19 L123.62 66.01 L125.23 65.82 L126.84 65.63 L128.44 65.44 L130.05 65.24 L131.66 65.05 L133.27 64.85 L134.88 64.65 L136.48 64.44 L138.09 64.24 L139.70 64.03 L141.30 63.82 L142.91 63.61 L144.52 63.40 L146.13 63.19 L147.73 62.97 L149.34 62.76 L150.94 62.54 L152.55 62.32 L154.16 62.10 L155.76 61.89 L157.37 61.66 L158.98 61.44 L160.58 61.22 L162.19 61.00 L163.80 60.78 L165.40 60.55 L167.01 60.33 L168.61 60.11 L170.22 59.88 L171.83 59.66 L173.43 59.44 L175.04 59.21 L176.65 58.99 L178.25 58.77 L179.86 58.55 L181.47 58.33 L183.08 58.11 L184.68 57.89 L186.29 57.67 L187.90 57.46 L189.51 57.24 L191.11 57.03 L192.72 56.82 L194.33 56.61 L195.94 56.41 L197.55 56.21 L199.16 56.01 L200.76 55.81 L202.37 55.62 L203.98 55.43 L205.59 55.24 L207.20 55.05 L208.81 54.87 L210.42 54.70 L212.03 54.53 L213.64 54.36 L215.25 54.20 L216.86 54.04 L218.47 53.88 L220.08 53.73 L221.69 53.59 L223.30 53.45 L224.91 53.31 L226.52 53.17 L228.13 53.04 L229.75 52.92 L231.36 52.79 L232.97 52.67 L234.59 52.56 L236.20 52.45 L237.81 52.34 L239.43 52.23 L241.05 52.13 L242.66 52.03 L244.28 51.93 L245.90 51.84 L247.51 51.75 L249.13 51.67 L250.75 51.58 L252.37 51.51 L253.99 51.43 L255.61 51.36 L257.23 51.29 L258.85 51.23 L260.47 51.18 L262.10 51.12 L263.72 51.07 L265.34 51.03 L266.96 50.99 L268.58 50.96 L270.21 50.93 L271.83 50.91 L273.45 50.89 L275.07 50.88 L276.70 50.88 L278.32 50.88 L279.94 50.89 L281.56 50.90 L283.18 50.92 L284.81 50.94 L286.43 50.98 L288.05 51.02 L289.67 51.06 L291.29 51.12 L292.91 51.18 L294.53 51.25 L296.15 51.32 L297.77 51.41 L299.39 51.50 L301.01 51.60 L302.62 51.70 L304.24 51.82 L305.86 51.94 L307.47 52.08 L309.09 52.22 L310.70 52.37 L312.32 52.53 L313.93 52.69 L315.54 52.87 L317.15 53.06 L318.76 53.25 L320.37 53.46 L321.98 53.67 L323.59 53.90 L325.19 54.13 L326.80 54.38 L328.40 54.63 L330.01 54.90 L331.61 55.18 L333.21 55.46 L334.81 55.76 L336.40 56.07 L338.00 56.39 L339.59 56.72 L341.18 57.06 L342.76 57.42 L344.35 57.78 L345.93 58.16 L347.50 58.55 L349.08 58.95 L350.65 59.36 L352.21 59.79 L353.77 60.22 L355.33 60.67 L356.88 61.14 L358.43 61.61 L359.98 62.10 L361.51 62.60 L363.05 63.12 L364.57 63.65 L366.10 64.19 L367.61 64.74 L369.12 65.31 L370.63 65.89 L372.13 66.49 L373.62 67.10 L375.10 67.73 L376.58 68.36 L378.05 69.02 L379.51 69.69 L380.97 70.37 L382.42 71.07 L383.86 71.78 L385.29 72.51 L386.71 73.25 L388.13 74.01 L389.53 74.78 L390.93 75.57 L392.32 76.38 L393.70 77.20 L395.07 78.04 L396.43 78.89 L397.78 79.76 L399.13 80.65 L400.46 81.55 L401.78 82.47 L403.09 83.40 L404.39 84.36 L405.68 85.33 L406.95 86.31 L408.22 87.32 L409.48 88.34 L410.72 89.38 L411.95 90.44 L413.17 91.51 L414.38 92.61 L415.57 93.72 L416.76 94.85 L417.93 95.99 L419.09 97.15 L420.25 98.31 L421.39 99.49 L422.53 100.67 L423.66 101.86 L424.79 103.05 L425.91 104.25 L427.03 105.44 L428.15 106.63 L429.27 107.81 L430.38 108.99 L431.49 110.16 L432.60 111.33 L433.70 112.51 L434.78 113.70 L435.84 114.90 L436.88 116.12 L437.89 117.36 L438.88 118.62 L439.85 119.91 L440.79 121.21 L441.71 122.53 L442.61 123.87 L443.49 125.23 L444.35 126.60 L445.20 127.99 L446.02 129.38 L446.83 130.79 L447.63 132.22 L448.41 133.65 L449.17 135.09 L449.93 136.53 L450.67 137.99 L451.41 139.45 L452.13 140.91 L452.85 142.38 L453.56 143.85 L454.27 145.32 L454.96 146.80 L455.65 148.27 L456.34 149.75 L457.01 151.23 L457.68 152.71 L458.35 154.20 L459.01 155.69 L459.66 157.18 L460.30 158.67 L460.94 160.16 L461.57 161.65 L462.20 163.15 L462.82 164.65 L463.43 166.15 L464.04 167.65 L464.64 169.16 L465.23 170.67 L465.82 172.17 L466.41 173.69 L466.98 175.20 L467.56 176.71 L468.12 178.23 L468.68 179.75 L469.24 181.27 L469.79 182.79 L470.33 184.31 L470.87 185.84 L471.40 187.36 L471.93 188.89 L472.45 190.42 L472.96 191.96 L473.48 193.49 L473.98 195.03 L474.48 196.56 L474.98 198.10 L475.47 199.64 L475.95 201.19 L476.44 202.73 L476.91 204.27 L477.38 205.82 L477.85 207.37 L478.31 208.92 L478.77 210.47 L479.22 212.02 L479.66 213.58 L480.11 215.14 L480.55 216.69 L480.98 218.25 L481.41 219.81 L481.83 221.37 L482.25 222.94 L482.67 224.50 L483.08 226.07 L483.49 227.63 L483.89 229.20 L484.29 230.77 L484.68 232.34 L485.07 233.91 L485.46 235.48 L485.84 237.06 L486.22 238.63 L486.59 240.21 L486.97 241.79 L487.33 243.37 L487.70 244.95 L488.05 246.53 L488.41 248.11 L488.76 249.69 L489.11 251.27 L489.45 252.86 L489.80 254.44 L490.13 256.03 L490.47 257.62 L490.80 259.20 L491.13 260.79 L491.45 262.38 L491.77 263.97 L492.09 265.56 L492.40 267.16 L492.72 268.75 L493.02 270.34 L493.33 271.94 L493.63 273.53 L493.93 275.13 L494.23 276.72 L494.52 278.32 L494.81 279.92 L495.10 281.51 L495.39 283.11 L495.67 284.71 L495.95 286.31 L496.23 287.91 L496.50 289.51 L496.77 291.11 L497.04 292.71 L497.31 294.31 L497.57 295.92 L497.84 297.52 L498.10 299.12 L498.36 300.72 L498.61 302.33 L498.86 303.93 L499.12 305.54 L499.37 307.14 L499.61 308.74 L499.86 310.35 L500.10 311.95 L500.34 313.56 L500.58 315.16 L500.82 316.77 L501.06 318.37 L501.29 319.98 L501.52 321.58 L501.75 323.19 L501.98 324.80 L502.21 326.40 L502.44 328.01 L502.66 329.61 L502.89 331.22 L503.11 332.82 L503.33 334.43 L503.55 336.03 L503.77 337.64 L503.98 339.24 L504.20 340.85 L504.41 342.45 L504.63 344.06 L504.84 345.66 L505.05 347.26 L505.26 348.87 L505.47 350.47 L505.68 352.07 L505.89 353.67 L506.10 355.27 L506.30 356.88 L506.51 358.48 L506.71 360.08 L506.92 361.68 L507.12 363.28 L507.33 364.88 L507.53 366.48 L507.73 368.07 L507.94 369.67" stroke="#ff00ff"/>
<path d="M76.76 69.96 L78.38 69.91 L79.99 69.86 L81.61 69.81 L83.22 69.75 L84.83 69.69 L86.44 69.63 L88.05 69.56 L89.66 69.50 L91.27 69.42 L92.88 69.35 L94.49 69.27 L96.10 69.20 L97.71 69.11 L99.32 69.03 L100.93 68.94 L102.54 68.85 L104.14 68.76 L105.75 68.67 L107.36 68.58 L108.96 68.48 L110.57 68.38 L112.18 68.28 L113.78 68.18 L115.39 68.07 L116.99 67.96 L118.59 67.86 L120.20 67.75 L121.80 67.64 L123.41 67.52 L125.01 67.41 L126.61 67.30 L128.22 67.18 L129.82 67.06 L131.42 66.94 L133.02 66.82 L134.62 66.70 L136.23 66.58 L137.83 66.46 L139.43 66.34 L141.03 66.22 L142.63 66.09 L144.23 65.97 L145.83 65.84 L147.43 65.72 L149.03 65.59 L150.64 65.47 L152.24 65.34 L153.84 65.21 L155.44 65.09 L157.04 64.96 L158.64 64.84 L160.24 64.71 L161.84 64.58 L163.44 64.46 L165.04 64.33 L166.64 64.21 L168.23 64.09 L169.83 63.96 L171.43 63.84 L173.03 63.72 L174.63 63.60 L176.23 63.48 L177.83 63.36 L179.43 63.24 L181.03 63.12 L182.63 63.00 L184.23 62.89 L185.83 62.77 L187.43 62.66 L189.03 62.55 L190.63 62.44 L192.23 62.33 L193.83 62.23 L195.43 62.12 L197.04 62.02 L198.64 61.92 L200.24 61.82 L201.84 61.72 L203.44 61.62 L205.04 61.53 L206.64 61.44 L208.24 61.35 L209.85 61.26 L211.45 61.18 L213.05 61.10 L214.65 61.02 L216.26 60.94 L217.86 60.86 L219.46 60.79 L221.07 60.72 L222.67 60.66 L224.28 60.59 L225.88 60.53 L227.49 60.48 L229.09 60.42 L230.70 60.37 L232.30 60.32 L233.91 60.28 L235.51 60.24 L237.12 60.20 L238.73 60.16 L240.33 60.13 L241.94 60.11 L243.55 60.08 L245.16 60.06 L246.77 60.05 L248.38 60.04 L249.99 60.03 L251.60 60.03 L253.21 60.03 L254.82 60.03 L256.43 60.04 L258.04 60.05 L259.65 60.07 L261.27 60.09 L262.88 60.12 L264.49 60.15 L266.11 60.19 L267.72 60.23 L269.34 60.27 L270.95 60.32 L272.57 60.38 L274.19 60.44 L275.80 60.50 L277.42 60.58 L279.03 60.65 L280.65 60.73 L282.26 60.82 L283.88 60.92 L285.49 61.02 L287.11 61.12 L288.72 61.23 L290.33 61.35 L291.95 61.47 L293.56 61.60 L295.17 61.74 L296.78 61.88 L298.39 62.03 L300.00 62.19 L301.60 62.35 L303.21 62.53 L304.81 62.70 L306.42 62.89 L308.02 63.08 L309.62 63.28 L311.22 63.48 L312.81 63.70 L314.41 63.92 L316.00 64.15 L317.60 64.39 L319.19 64.63 L320.77 64.89 L322.36 65.15 L323.94 65.42 L325.52 65.69 L327.10 65.98 L328.68 66.28 L330.26 66.58 L331.83 66.89 L333.40 67.21 L334.97 67.54 L336.53 67.88 L338.09 68.23 L339.65 68.59 L341.21 68.95 L342.76 69.33 L344.31 69.71 L345.85 70.11 L347.40 70.51 L348.94 70.93 L350.48 71.35 L352.01 71.79 L353.54 72.23 L355.07 72.69 L356.59 73.15 L358.11 73.63 L359.62 74.11 L361.13 74.61 L362.64 75.12 L364.14 75.63 L365.64 76.16 L367.14 76.70 L368.63 77.25 L370.12 77.82 L371.60 78.39 L373.08 78.97 L374.55 79.57 L376.02 80.18 L377.48 80.80 L378.94 81.43 L380.40 82.07 L381.85 82.73 L383.29 83.39 L384.73 84.07 L386.17 84.76 L387.59 85.47 L389.02 86.18 L390.44 86.91 L391.85 87.66 L393.26 88.41 L394.66 89.18 L396.06 89.96 L397.45 90.75 L398.84 91.56 L400.22 92.38 L401.59 93.21 L402.96 94.06 L404.32 94.92 L405.67 95.79 L407.02 96.68 L408.37 97.58 L409.70 98.49 L411.03 99.42 L412.36 100.37 L413.68 101.32 L414.99 102.29 L416.29 103.28 L417.58 104.27 L418.86 105.28 L420.14 106.30 L421.40 107.34 L422.65 108.38 L423.89 109.44 L425.12 110.50 L426.34 111.58 L427.55 112.67 L428.74 113.76 L429.91 114.87 L431.08 115.99 L432.23 117.11 L433.36 118.25 L434.47 119.40 L435.57 120.56 L436.66 121.73 L437.72 122.92 L438.77 124.13 L439.80 125.34 L440.81 126.57 L441.80 127.82 L442.78 129.07 L443.75 130.34 L444.70 131.62 L445.64 132.91 L446.56 134.21 L447.47 135.52 L448.37 136.83 L449.26 138.16 L450.14 139.49 L451.02 140.83 L451.88 142.18 L452.73 143.53 L453.58 144.89 L454.42 146.25 L455.25 147.62 L456.08 148.99 L456.89 150.37 L457.70 151.76 L458.51 153.15 L459.30 154.54 L460.09 155.94 L460.87 157.35 L461.64 158.76 L462.41 160.17 L463.17 161.59 L463.92 163.01 L464.66 164.43 L465.40 165.87 L466.13 167.30 L466.86 168.74 L467.57 170.18 L468.28 171.63 L468.99 173.08 L469.69 174.53 L470.38 175.99 L471.06 177.45 L471.74 178.91 L472.41 180.37 L473.08 181.84 L473.74 183.32 L474.39 184.79 L475.04 186.27 L475.68 187.75 L476.31 189.23 L476.94 190.72 L477.56 192.20 L478.18 193.69 L478.79 195.19 L479.40 196.68 L480.00 198.17 L480.59 199.67 L481.18 201.17 L481.76 202.67 L482.34 204.17 L482.91 205.68 L483.48 207.18 L484.04 208.69 L484.59 210.20 L485.14 211.71 L485.69 213.22 L486.23 214.74 L486.76 216.25 L487.29 217.77 L487.81 219.29 L488.33 220.81 L488.85 222.33 L489.35 223.85 L489.86 225.37 L490.36 226.90 L490.85 228.43 L491.34 229.95 L491.82 231.48 L492.30 233.01 L492.78 234.55 L493.25 236.08 L493.71 237.62 L494.18 239.15 L494.63 240.69 L495.08 242.23 L495.53 243.77 L495.97 245.31 L496.41 246.85 L496.85 248.40 L497.28 249.94 L497.70 251.49 L498.13 253.03 L498.54 254.58 L498.96 256.13 L499.37 257.68 L499.77 259.23 L500.17 260.79 L500.57 262.34 L500.96 263.90 L501.35 265.45 L501.74 267.01 L502.12 268.57 L502.50 270.13 L502.87 271.69 L503.24 273.25 L503.61 274.81 L503.97 276.37 L504.33 277.94 L504.69 279.50 L505.04 281.07 L505.39 282.64 L505.74 284.20 L506.08 285.77 L506.42 287.34 L506.76 288.91 L507.09 290.48 L507.42 292.05 L507.75 293.63 L508.07 295.20 L508.40 296.77 L508.71 298.35 L509.03 299.92 L509.34 301.50 L509.65 303.08 L509.96 304.66 L510.26 306.23 L510.56 307.81 L510.86 309.39 L511.16 310.97 L511.45 312.55 L511.74 314.14 L512.03 315.72 L512.31 317.30 L512.60 318.88 L512.88 320.47 L513.15 322.05 L513.43 323.64 L513.70 325.22 L513.98 326.81 L514.24 328.39 L514.51 329.98 L514.78 331.57 L515.04 333.15 L515.30 334.74 L515.56 336.33 L515.82 337.92 L516.07 339.51 L516.33 341.10 L516.58 342.69 L516.83 344.28 L517.07 345.87 L517.32 347.46 L517.57 349.05 L517.81 350.64 L518.05 352.23 L518.29 353.82 L518.53 355.42 L518.77 357.01 L519.00 358.60 L519.24 360.19 L519.47 361.78 L519.70 363.38 L519.93 364.97 L520.16 366.56 L520.39 368.16 L520.61 369.75" stroke="#800080"/>
</g>
<line x1="15.9" y1="283.00" x2="690" y2="283.00" stroke="#000" stroke-width="1.2"/>
<path d="M697.90 283.00 L686.20 279.60 L687.72 283.00 L686.20 286.40 Z" fill="#000"/>
<line x1="76.60" y1="368.8" x2="76.60" y2="34" stroke="#000" stroke-width="1.3"/>
<path d="M76.60 26.70 L80.00 38.70 L76.60 37.14 L73.20 38.70 Z" fill="#000"/>
<line x1="30.00" y1="282.50" x2="30.00" y2="280.90" stroke="#000" stroke-width="0.6"/><line x1="56.17" y1="282.50" x2="56.17" y2="280.90" stroke="#000" stroke-width="0.6"/><line x1="82.34" y1="282.50" x2="82.34" y2="280.90" stroke="#000" stroke-width="0.6"/><line x1="108.51" y1="282.50" x2="108.51" y2="280.90" stroke="#000" stroke-width="0.6"/><line x1="134.68" y1="282.50" x2="134.68" y2="280.90" stroke="#000" stroke-width="0.6"/><line x1="160.85" y1="282.50" x2="160.85" y2="280.90" stroke="#000" stroke-width="0.6"/><line x1="187.02" y1="282.50" x2="187.02" y2="280.90" stroke="#000" stroke-width="0.6"/><line x1="213.19" y1="282.50" x2="213.19" y2="280.90" stroke="#000" stroke-width="0.6"/><line x1="239.36" y1="282.50" x2="239.36" y2="280.90" stroke="#000" stroke-width="0.6"/><line x1="265.53" y1="282.50" x2="265.53" y2="280.90" stroke="#000" stroke-width="0.6"/><line x1="291.70" y1="282.50" x2="291.70" y2="280.90" stroke="#000" stroke-width="0.6"/><line x1="317.87" y1="282.50" x2="317.87" y2="280.90" stroke="#000" stroke-width="0.6"/><line x1="344.04" y1="282.50" x2="344.04" y2="280.90" stroke="#000" stroke-width="0.6"/><line x1="370.21" y1="282.50" x2="370.21" y2="280.90" stroke="#000" stroke-width="0.6"/><line x1="396.38" y1="282.50" x2="396.38" y2="280.90" stroke="#000" stroke-width="0.6"/><line x1="422.55" y1="282.50" x2="422.55" y2="280.90" stroke="#000" stroke-width="0.6"/><line x1="448.72" y1="282.50" x2="448.72" y2="280.90" stroke="#000" stroke-width="0.6"/><line x1="474.89" y1="282.50" x2="474.89" y2="280.90" stroke="#000" stroke-width="0.6"/><line x1="501.06" y1="282.50" x2="501.06" y2="280.90" stroke="#000" stroke-width="0.6"/><line x1="527.23" y1="282.50" x2="527.23" y2="280.90" stroke="#000" stroke-width="0.6"/><line x1="553.40" y1="282.50" x2="553.40" y2="280.90" stroke="#000" stroke-width="0.6"/><line x1="579.57" y1="282.50" x2="579.57" y2="280.90" stroke="#000" stroke-width="0.6"/><line x1="605.74" y1="282.50" x2="605.74" y2="280.90" stroke="#000" stroke-width="0.6"/><line x1="631.91" y1="282.50" x2="631.91" y2="280.90" stroke="#000" stroke-width="0.6"/><line x1="658.08" y1="282.50" x2="658.08" y2="280.90" stroke="#000" stroke-width="0.6"/>
<line x1="30.00" y1="282.50" x2="30.00" y2="279.80" stroke="#000" stroke-width="0.6"/><line x1="160.85" y1="282.50" x2="160.85" y2="279.80" stroke="#000" stroke-width="0.6"/><line x1="291.70" y1="282.50" x2="291.70" y2="279.80" stroke="#000" stroke-width="0.6"/><line x1="422.55" y1="282.50" x2="422.55" y2="279.80" stroke="#000" stroke-width="0.6"/><line x1="553.40" y1="282.50" x2="553.40" y2="279.80" stroke="#000" stroke-width="0.6"/>
<text x="29.50" y="294.10" font-size="8.3" text-anchor="middle" fill="#000" >−0.5</text>
<text x="160.35" y="294.10" font-size="8.3" text-anchor="middle" fill="#000" >−0.4</text>
<text x="291.20" y="294.10" font-size="8.3" text-anchor="middle" fill="#000" >−0.3</text>
<text x="422.05" y="294.10" font-size="8.3" text-anchor="middle" fill="#000" >−0.2</text>
<text x="552.90" y="294.10" font-size="8.3" text-anchor="middle" fill="#000" >−0.1</text>
<line x1="77.10" y1="368.45" x2="78.70" y2="368.45" stroke="#000" stroke-width="0.6"/><line x1="77.10" y1="351.36" x2="78.70" y2="351.36" stroke="#000" stroke-width="0.6"/><line x1="77.10" y1="334.27" x2="78.70" y2="334.27" stroke="#000" stroke-width="0.6"/><line x1="77.10" y1="317.18" x2="78.70" y2="317.18" stroke="#000" stroke-width="0.6"/><line x1="77.10" y1="300.09" x2="78.70" y2="300.09" stroke="#000" stroke-width="0.6"/><line x1="77.10" y1="283.00" x2="78.70" y2="283.00" stroke="#000" stroke-width="0.6"/><line x1="77.10" y1="265.91" x2="78.70" y2="265.91" stroke="#000" stroke-width="0.6"/><line x1="77.10" y1="248.82" x2="78.70" y2="248.82" stroke="#000" stroke-width="0.6"/><line x1="77.10" y1="231.73" x2="78.70" y2="231.73" stroke="#000" stroke-width="0.6"/><line x1="77.10" y1="214.64" x2="78.70" y2="214.64" stroke="#000" stroke-width="0.6"/><line x1="77.10" y1="197.55" x2="78.70" y2="197.55" stroke="#000" stroke-width="0.6"/><line x1="77.10" y1="180.46" x2="78.70" y2="180.46" stroke="#000" stroke-width="0.6"/><line x1="77.10" y1="163.37" x2="78.70" y2="163.37" stroke="#000" stroke-width="0.6"/><line x1="77.10" y1="146.28" x2="78.70" y2="146.28" stroke="#000" stroke-width="0.6"/><line x1="77.10" y1="129.19" x2="78.70" y2="129.19" stroke="#000" stroke-width="0.6"/><line x1="77.10" y1="112.10" x2="78.70" y2="112.10" stroke="#000" stroke-width="0.6"/><line x1="77.10" y1="95.01" x2="78.70" y2="95.01" stroke="#000" stroke-width="0.6"/><line x1="77.10" y1="77.92" x2="78.70" y2="77.92" stroke="#000" stroke-width="0.6"/><line x1="77.10" y1="60.83" x2="78.70" y2="60.83" stroke="#000" stroke-width="0.6"/><line x1="77.10" y1="43.74" x2="78.70" y2="43.74" stroke="#000" stroke-width="0.6"/>
<line x1="77.10" y1="112.10" x2="79.80" y2="112.10" stroke="#000" stroke-width="0.6"/><line x1="77.10" y1="197.55" x2="79.80" y2="197.55" stroke="#000" stroke-width="0.6"/><line x1="77.10" y1="368.45" x2="79.80" y2="368.45" stroke="#000" stroke-width="0.6"/>
<text x="74.00" y="115.70" font-size="8.3" text-anchor="end" fill="#000" >−0.50</text>
<text x="74.00" y="201.15" font-size="8.3" text-anchor="end" fill="#000" >−0.55</text>
<text x="74.00" y="372.05" font-size="8.3" text-anchor="end" fill="#000" >−0.65</text>
<text x="76.50" y="20.20" font-size="8.2" text-anchor="middle" fill="#000" >Area</text>
<text x="707.70" y="286.50" font-size="9" text-anchor="middle" fill="#000" font-style="italic">α</text>
<rect x="112.8" y="111.4" width="147.9" height="138.4" fill="#ebebeb"/>
<g fill="none" stroke-width="1.6" stroke-linejoin="round">
<path d="M140.74 182.51 L141.53 182.43 L142.32 182.37 L143.10 182.31 L143.89 182.25 L144.67 182.21 L145.46 182.17 L146.24 182.13 L147.03 182.11 L147.81 182.09 L148.60 182.07 L149.39 182.06 L150.17 182.06 L150.96 182.07 L151.74 182.08 L152.53 182.10 L153.31 182.12 L154.10 182.15 L154.88 182.19 L155.67 182.23 L156.45 182.28 L157.24 182.33 L158.02 182.39 L158.81 182.46 L159.59 182.53 L160.38 182.61 L161.16 182.69 L161.95 182.78 L162.73 182.87 L163.52 182.97 L164.30 183.08 L165.09 183.19 L165.87 183.31 L166.66 183.43 L167.44 183.56 L168.23 183.69 L169.01 183.83 L169.80 183.97 L170.58 184.12 L171.36 184.27 L172.15 184.43 L172.93 184.60 L173.72 184.77 L174.50 184.94 L175.28 185.12 L176.07 185.30 L176.85 185.49 L177.64 185.69 L178.42 185.89 L179.20 186.09 L179.99 186.30 L180.77 186.51 L181.55 186.73 L182.34 186.95 L183.12 187.18 L183.90 187.41 L184.69 187.64 L185.47 187.88 L186.25 188.13 L187.03 188.38 L187.82 188.63 L188.60 188.89 L189.38 189.15 L190.17 189.41 L190.95 189.68 L191.73 189.96 L192.51 190.23 L193.30 190.52 L194.08 190.80 L194.86 191.09 L195.64 191.38 L196.42 191.68 L197.21 191.98 L197.99 192.29 L198.77 192.59 L199.55 192.91 L200.33 193.22 L201.11 193.54 L201.89 193.86 L202.68 194.19 L203.46 194.52 L204.24 194.85 L205.02 195.19 L205.80 195.53 L206.58 195.87 L207.36 196.22 L208.14 196.56 L208.92 196.92 L209.70 197.27 L210.48 197.63 L211.26 197.99 L212.04 198.36 L212.82 198.72 L213.60 199.09 L214.38 199.46 L215.16 199.84 L215.94 200.22 L216.72 200.60 L217.50 200.99 L218.28 201.38 L219.06 201.77 L219.83 202.17 L220.61 202.57 L221.39 202.98 L222.17 203.39 L222.95 203.81 L223.73 204.23 L224.50 204.66 L225.28 205.10 L226.06 205.53 L226.84 205.98 L227.61 206.43 L228.39 206.89 L229.17 207.35 L229.94 207.82 L230.72 208.30 L231.49 208.79 L232.27 209.28 L233.05 209.78 L233.82 210.28 L234.60 210.80 L235.37 211.32 L236.14 211.85 L236.92 212.39 L237.69 212.94 L238.47 213.50 L239.24 214.06 L240.01 214.64 L240.78 215.22 L241.56 215.82 L242.33 216.42 L243.10 217.03 L243.87 217.66 L244.64 218.29 L245.41 218.93 L246.19 219.59 L246.96 220.25 L247.73 220.93 L248.49 221.62 L249.26 222.32" stroke="#0000ff"/>
<path d="M140.74 182.53 L141.53 182.49 L142.31 182.45 L143.09 182.41 L143.87 182.38 L144.65 182.35 L145.44 182.32 L146.22 182.29 L147.00 182.27 L147.78 182.25 L148.56 182.23 L149.35 182.22 L150.13 182.21 L150.91 182.20 L151.69 182.19 L152.48 182.19 L153.26 182.19 L154.04 182.20 L154.82 182.20 L155.60 182.21 L156.39 182.22 L157.17 182.24 L157.95 182.26 L158.73 182.28 L159.51 182.30 L160.30 182.33 L161.08 182.36 L161.86 182.39 L162.64 182.42 L163.42 182.46 L164.21 182.50 L164.99 182.54 L165.77 182.59 L166.55 182.63 L167.33 182.68 L168.12 182.74 L168.90 182.79 L169.68 182.85 L170.46 182.91 L171.24 182.98 L172.03 183.04 L172.81 183.11 L173.59 183.18 L174.37 183.26 L175.15 183.33 L175.94 183.41 L176.72 183.49 L177.50 183.58 L178.28 183.66 L179.06 183.75 L179.84 183.84 L180.63 183.94 L181.41 184.03 L182.19 184.13 L182.97 184.23 L183.75 184.33 L184.54 184.44 L185.32 184.55 L186.10 184.66 L186.88 184.77 L187.66 184.88 L188.44 185.00 L189.23 185.12 L190.01 185.24 L190.79 185.36 L191.57 185.49 L192.35 185.62 L193.13 185.75 L193.92 185.88 L194.70 186.02 L195.48 186.15 L196.26 186.29 L197.04 186.43 L197.82 186.58 L198.60 186.72 L199.39 186.87 L200.17 187.02 L200.95 187.17 L201.73 187.33 L202.51 187.49 L203.29 187.65 L204.07 187.83 L204.86 188.00 L205.64 188.19 L206.42 188.38 L207.20 188.58 L207.98 188.78 L208.76 189.00 L209.54 189.23 L210.32 189.46 L211.10 189.71 L211.88 189.97 L212.66 190.24 L213.44 190.52 L214.22 190.81 L215.00 191.12 L215.77 191.43 L216.55 191.74 L217.33 192.07 L218.11 192.40 L218.89 192.73 L219.67 193.07 L220.44 193.41 L221.22 193.75 L222.00 194.10 L222.78 194.44 L223.55 194.78 L224.33 195.12 L225.11 195.46 L225.88 195.80 L226.66 196.15 L227.43 196.49 L228.21 196.84 L228.99 197.19 L229.76 197.54 L230.54 197.90 L231.31 198.27 L232.09 198.64 L232.87 199.01 L233.64 199.39 L234.42 199.78 L235.19 200.17 L235.97 200.57 L236.74 200.99 L237.52 201.40 L238.29 201.83 L239.07 202.27 L239.84 202.72 L240.62 203.18 L241.39 203.65 L242.17 204.14 L242.94 204.63 L243.72 205.14 L244.49 205.66 L245.27 206.18 L246.04 206.73 L246.81 207.28 L247.59 207.84 L248.36 208.42 L249.13 209.01 L249.91 209.61" stroke="#000000"/>
<path d="M140.74 182.53 L141.52 182.49 L142.31 182.45 L143.09 182.41 L143.87 182.37 L144.65 182.33 L145.43 182.29 L146.21 182.24 L146.99 182.20 L147.77 182.16 L148.56 182.11 L149.34 182.07 L150.12 182.02 L150.90 181.98 L151.68 181.93 L152.46 181.89 L153.25 181.84 L154.03 181.80 L154.81 181.75 L155.59 181.71 L156.37 181.66 L157.15 181.62 L157.94 181.58 L158.72 181.53 L159.50 181.49 L160.28 181.45 L161.06 181.40 L161.84 181.36 L162.63 181.32 L163.41 181.28 L164.19 181.24 L164.97 181.20 L165.75 181.17 L166.54 181.13 L167.32 181.09 L168.10 181.06 L168.88 181.03 L169.66 180.99 L170.45 180.96 L171.23 180.93 L172.01 180.90 L172.79 180.88 L173.57 180.85 L174.36 180.83 L175.14 180.80 L175.92 180.78 L176.70 180.76 L177.48 180.74 L178.27 180.73 L179.05 180.71 L179.83 180.70 L180.61 180.69 L181.39 180.68 L182.17 180.67 L182.96 180.67 L183.74 180.67 L184.52 180.67 L185.30 180.67 L186.08 180.67 L186.87 180.68 L187.65 180.69 L188.43 180.70 L189.21 180.71 L189.99 180.73 L190.77 180.75 L191.56 180.77 L192.34 180.80 L193.12 180.82 L193.90 180.85 L194.68 180.89 L195.46 180.92 L196.25 180.96 L197.03 181.00 L197.81 181.05 L198.59 181.10 L199.37 181.15 L200.15 181.20 L200.93 181.26 L201.72 181.32 L202.50 181.39 L203.28 181.46 L204.06 181.53 L204.84 181.61 L205.62 181.69 L206.40 181.77 L207.18 181.86 L207.96 181.95 L208.75 182.05 L209.53 182.15 L210.31 182.26 L211.09 182.37 L211.87 182.48 L212.65 182.60 L213.43 182.72 L214.21 182.85 L214.99 182.99 L215.77 183.13 L216.56 183.27 L217.34 183.42 L218.12 183.57 L218.90 183.73 L219.68 183.90 L220.46 184.07 L221.24 184.25 L222.02 184.43 L222.80 184.62 L223.58 184.81 L224.36 185.01 L225.14 185.22 L225.93 185.43 L226.71 185.65 L227.49 185.88 L228.27 186.12 L229.05 186.36 L229.83 186.61 L230.61 186.87 L231.39 187.14 L232.17 187.41 L232.95 187.70 L233.73 187.99 L234.51 188.29 L235.29 188.61 L236.06 188.93 L236.84 189.26 L237.62 189.60 L238.40 189.96 L239.18 190.32 L239.95 190.69 L240.73 191.08 L241.51 191.48 L242.29 191.88 L243.06 192.30 L243.84 192.73 L244.61 193.18 L245.39 193.63 L246.16 194.10 L246.93 194.58 L247.71 195.07 L248.48 195.57 L249.25 196.09" stroke="#ff0000"/>
<path d="M140.74 182.43 L141.53 182.40 L142.31 182.35 L143.09 182.30 L143.87 182.25 L144.66 182.19 L145.44 182.13 L146.22 182.07 L147.00 181.99 L147.79 181.92 L148.57 181.84 L149.35 181.76 L150.13 181.67 L150.92 181.58 L151.70 181.48 L152.48 181.38 L153.27 181.28 L154.05 181.18 L154.83 181.07 L155.61 180.96 L156.40 180.84 L157.18 180.73 L157.96 180.61 L158.75 180.49 L159.53 180.36 L160.31 180.24 L161.10 180.11 L161.88 179.98 L162.66 179.84 L163.44 179.71 L164.23 179.57 L165.01 179.44 L165.79 179.30 L166.58 179.16 L167.36 179.02 L168.14 178.87 L168.93 178.73 L169.71 178.59 L170.49 178.44 L171.28 178.30 L172.06 178.15 L172.84 178.01 L173.63 177.86 L174.41 177.71 L175.19 177.57 L175.98 177.42 L176.76 177.28 L177.54 177.13 L178.33 176.99 L179.11 176.84 L179.89 176.70 L180.68 176.56 L181.46 176.42 L182.24 176.28 L183.03 176.14 L183.81 176.01 L184.59 175.87 L185.38 175.74 L186.16 175.61 L186.94 175.48 L187.73 175.35 L188.51 175.23 L189.29 175.10 L190.08 174.98 L190.86 174.87 L191.64 174.75 L192.43 174.64 L193.21 174.53 L193.99 174.42 L194.77 174.32 L195.56 174.22 L196.34 174.13 L197.12 174.04 L197.91 173.95 L198.69 173.86 L199.47 173.78 L200.26 173.71 L201.04 173.63 L201.82 173.57 L202.61 173.50 L203.39 173.44 L204.17 173.39 L204.95 173.34 L205.74 173.30 L206.52 173.26 L207.30 173.22 L208.09 173.19 L208.87 173.17 L209.65 173.15 L210.43 173.14 L211.22 173.14 L212.00 173.14 L212.78 173.14 L213.57 173.15 L214.35 173.17 L215.13 173.20 L215.91 173.23 L216.70 173.27 L217.48 173.31 L218.26 173.37 L219.04 173.43 L219.83 173.49 L220.61 173.57 L221.39 173.65 L222.17 173.74 L222.95 173.83 L223.74 173.94 L224.52 174.05 L225.30 174.17 L226.08 174.30 L226.87 174.44 L227.65 174.58 L228.43 174.74 L229.21 174.90 L229.99 175.07 L230.77 175.26 L231.56 175.45 L232.34 175.64 L233.12 175.85 L233.90 176.07 L234.68 176.30 L235.46 176.54 L236.25 176.78 L237.03 177.04 L237.81 177.31 L238.59 177.59 L239.37 177.87 L240.15 178.17 L240.93 178.48 L241.71 178.80 L242.49 179.13 L243.28 179.47 L244.06 179.83 L244.84 180.19 L245.62 180.56 L246.40 180.95 L247.18 181.35 L247.96 181.76 L248.74 182.18 L249.52 182.61" stroke="#ff8000"/>
<path d="M140.74 182.54 L141.53 182.46 L142.31 182.38 L143.09 182.30 L143.88 182.24 L144.66 182.17 L145.44 182.12 L146.23 182.07 L147.01 182.03 L147.79 181.99 L148.57 181.96 L149.36 181.94 L150.14 181.92 L150.92 181.91 L151.71 181.90 L152.49 181.90 L153.27 181.90 L154.05 181.91 L154.84 181.93 L155.62 181.95 L156.40 181.97 L157.19 182.00 L157.97 182.04 L158.75 182.08 L159.53 182.13 L160.32 182.18 L161.10 182.23 L161.88 182.29 L162.67 182.36 L163.45 182.43 L164.23 182.51 L165.01 182.59 L165.80 182.67 L166.58 182.76 L167.36 182.85 L168.14 182.95 L168.93 183.05 L169.71 183.16 L170.49 183.27 L171.27 183.39 L172.06 183.51 L172.84 183.63 L173.62 183.75 L174.40 183.89 L175.19 184.02 L175.97 184.16 L176.75 184.30 L177.53 184.45 L178.31 184.59 L179.10 184.75 L179.88 184.90 L180.66 185.06 L181.44 185.22 L182.23 185.39 L183.01 185.56 L183.79 185.73 L184.57 185.91 L185.35 186.08 L186.13 186.26 L186.92 186.45 L187.70 186.64 L188.48 186.82 L189.26 187.02 L190.04 187.21 L190.82 187.41 L191.61 187.61 L192.39 187.81 L193.17 188.01 L193.95 188.22 L194.73 188.43 L195.51 188.64 L196.29 188.85 L197.08 189.07 L197.86 189.28 L198.64 189.50 L199.42 189.72 L200.20 189.95 L200.98 190.17 L201.76 190.40 L202.54 190.63 L203.32 190.86 L204.10 191.09 L204.89 191.33 L205.67 191.57 L206.45 191.81 L207.23 192.06 L208.01 192.31 L208.79 192.56 L209.57 192.82 L210.35 193.08 L211.13 193.34 L211.91 193.61 L212.69 193.88 L213.47 194.16 L214.25 194.44 L215.03 194.73 L215.80 195.02 L216.58 195.31 L217.36 195.61 L218.14 195.92 L218.92 196.23 L219.70 196.55 L220.48 196.87 L221.26 197.20 L222.03 197.54 L222.81 197.88 L223.59 198.23 L224.37 198.58 L225.15 198.94 L225.92 199.31 L226.70 199.68 L227.48 200.06 L228.25 200.45 L229.03 200.85 L229.81 201.25 L230.58 201.66 L231.36 202.08 L232.13 202.51 L232.91 202.94 L233.69 203.39 L234.46 203.84 L235.24 204.30 L236.01 204.77 L236.78 205.25 L237.56 205.73 L238.33 206.23 L239.11 206.73 L239.88 207.25 L240.65 207.77 L241.43 208.30 L242.20 208.85 L242.97 209.40 L243.74 209.97 L244.52 210.54 L245.29 211.12 L246.06 211.72 L246.83 212.33 L247.60 212.94 L248.37 213.57 L249.14 214.21 L249.91 214.86" stroke="#00ffff"/>
<path d="M140.75 182.65 L141.54 182.48 L142.33 182.31 L143.12 182.13 L143.92 181.94 L144.71 181.73 L145.50 181.52 L146.29 181.29 L147.08 181.06 L147.87 180.82 L148.67 180.56 L149.46 180.30 L150.25 180.03 L151.04 179.75 L151.83 179.46 L152.62 179.16 L153.41 178.86 L154.20 178.54 L154.99 178.22 L155.77 177.89 L156.56 177.56 L157.35 177.21 L158.14 176.86 L158.93 176.50 L159.72 176.14 L160.51 175.76 L161.29 175.39 L162.08 175.00 L162.87 174.61 L163.66 174.22 L164.44 173.81 L165.23 173.41 L166.02 173.00 L166.81 172.58 L167.59 172.16 L168.38 171.73 L169.17 171.30 L169.95 170.86 L170.74 170.42 L171.53 169.98 L172.31 169.54 L173.10 169.09 L173.89 168.63 L174.67 168.18 L175.46 167.72 L176.24 167.25 L177.03 166.79 L177.82 166.32 L178.60 165.86 L179.39 165.39 L180.18 164.91 L180.96 164.44 L181.75 163.96 L182.53 163.49 L183.32 163.01 L184.11 162.53 L184.89 162.06 L185.68 161.58 L186.46 161.10 L187.25 160.62 L188.04 160.14 L188.82 159.66 L189.61 159.19 L190.40 158.71 L191.18 158.24 L191.97 157.76 L192.76 157.29 L193.54 156.83 L194.33 156.36 L195.12 155.90 L195.90 155.44 L196.69 154.99 L197.48 154.54 L198.26 154.10 L199.05 153.66 L199.84 153.22 L200.63 152.79 L201.41 152.37 L202.20 151.96 L202.99 151.55 L203.77 151.15 L204.56 150.76 L205.35 150.37 L206.14 150.00 L206.93 149.63 L207.71 149.27 L208.50 148.92 L209.29 148.58 L210.08 148.25 L210.87 147.93 L211.65 147.62 L212.44 147.31 L213.23 147.01 L214.02 146.73 L214.81 146.45 L215.60 146.18 L216.39 145.91 L217.18 145.66 L217.97 145.41 L218.76 145.17 L219.55 144.94 L220.34 144.71 L221.13 144.49 L221.92 144.28 L222.71 144.07 L223.50 143.88 L224.29 143.68 L225.08 143.50 L225.88 143.33 L226.67 143.16 L227.46 143.00 L228.26 142.85 L229.05 142.71 L229.84 142.57 L230.64 142.45 L231.43 142.34 L232.22 142.23 L233.02 142.14 L233.81 142.06 L234.60 141.99 L235.40 141.93 L236.19 141.88 L236.99 141.85 L237.78 141.82 L238.57 141.81 L239.37 141.81 L240.16 141.83 L240.96 141.86 L241.75 141.90 L242.54 141.95 L243.34 142.02 L244.13 142.11 L244.92 142.21 L245.72 142.33 L246.51 142.46 L247.30 142.60 L248.10 142.76 L248.89 142.94 L249.68 143.14" stroke="#ff00ff"/>
<path d="M140.73 182.68 L141.52 182.58 L142.31 182.47 L143.10 182.35 L143.88 182.23 L144.67 182.11 L145.46 181.97 L146.25 181.83 L147.04 181.68 L147.83 181.53 L148.62 181.37 L149.40 181.21 L150.19 181.04 L150.98 180.87 L151.77 180.69 L152.55 180.50 L153.34 180.31 L154.13 180.12 L154.91 179.92 L155.70 179.71 L156.48 179.51 L157.27 179.29 L158.06 179.08 L158.84 178.86 L159.63 178.63 L160.41 178.41 L161.20 178.17 L161.98 177.94 L162.77 177.70 L163.55 177.46 L164.34 177.22 L165.12 176.97 L165.91 176.72 L166.69 176.47 L167.48 176.22 L168.26 175.96 L169.04 175.71 L169.83 175.45 L170.61 175.19 L171.39 174.92 L172.18 174.66 L172.96 174.39 L173.75 174.13 L174.53 173.86 L175.31 173.59 L176.10 173.32 L176.88 173.05 L177.66 172.78 L178.45 172.51 L179.23 172.24 L180.01 171.97 L180.79 171.70 L181.58 171.43 L182.36 171.17 L183.14 170.90 L183.93 170.63 L184.71 170.36 L185.49 170.10 L186.28 169.83 L187.06 169.57 L187.84 169.31 L188.62 169.05 L189.41 168.79 L190.19 168.54 L190.97 168.28 L191.76 168.03 L192.54 167.78 L193.32 167.53 L194.11 167.29 L194.89 167.05 L195.67 166.81 L196.45 166.58 L197.24 166.34 L198.02 166.12 L198.80 165.89 L199.59 165.67 L200.37 165.45 L201.15 165.24 L201.94 165.03 L202.72 164.82 L203.51 164.62 L204.29 164.43 L205.07 164.24 L205.86 164.05 L206.64 163.87 L207.43 163.69 L208.21 163.52 L209.00 163.36 L209.78 163.20 L210.56 163.04 L211.35 162.90 L212.13 162.76 L212.92 162.62 L213.70 162.49 L214.49 162.37 L215.28 162.25 L216.06 162.14 L216.85 162.04 L217.63 161.94 L218.42 161.86 L219.21 161.77 L219.99 161.70 L220.78 161.64 L221.57 161.58 L222.35 161.53 L223.14 161.49 L223.93 161.45 L224.72 161.43 L225.50 161.41 L226.29 161.40 L227.08 161.40 L227.87 161.41 L228.66 161.43 L229.45 161.46 L230.23 161.50 L231.02 161.55 L231.81 161.60 L232.60 161.67 L233.39 161.75 L234.18 161.83 L234.97 161.93 L235.76 162.04 L236.55 162.16 L237.35 162.29 L238.14 162.43 L238.93 162.58 L239.72 162.75 L240.51 162.92 L241.30 163.11 L242.09 163.31 L242.88 163.52 L243.67 163.75 L244.46 163.99 L245.25 164.24 L246.04 164.51 L246.83 164.78 L247.61 165.08 L248.40 165.38 L249.19 165.71" stroke="#800080"/>
</g>
<line x1="140.9" y1="237.0" x2="140.9" y2="129" stroke="#000" stroke-width="1.15"/>
<path d="M140.90 126.50 L142.20 130.50 L140.90 129.98 L139.60 130.50 Z" fill="#000"/>
<line x1="139.0" y1="236.5" x2="245.5" y2="236.5" stroke="#000" stroke-width="1.15"/>
<path d="M248.30 236.50 L244.30 235.20 L244.82 236.50 L244.30 237.80 Z" fill="#000"/>
<text x="138.20" y="148.70" font-size="8.3" text-anchor="end" fill="#000" >−0.465</text>
<text x="138.20" y="167.00" font-size="8.3" text-anchor="end" fill="#000" >−0.470</text>
<text x="138.20" y="185.30" font-size="8.3" text-anchor="end" fill="#000" >−0.475</text>
<text x="138.20" y="203.60" font-size="8.3" text-anchor="end" fill="#000" >−0.480</text>
<text x="138.20" y="221.90" font-size="8.3" text-anchor="end" fill="#000" >−0.485</text>
<line x1="141.50" y1="145.30" x2="143.00" y2="145.30" stroke="#000" stroke-width="0.5"/><line x1="141.50" y1="163.60" x2="143.00" y2="163.60" stroke="#000" stroke-width="0.5"/><line x1="141.50" y1="181.90" x2="143.00" y2="181.90" stroke="#000" stroke-width="0.5"/><line x1="141.50" y1="200.20" x2="143.00" y2="200.20" stroke="#000" stroke-width="0.5"/><line x1="141.50" y1="218.50" x2="143.00" y2="218.50" stroke="#000" stroke-width="0.5"/>
<line x1="141.50" y1="233.14" x2="142.40" y2="233.14" stroke="#000" stroke-width="0.4"/><line x1="141.50" y1="229.48" x2="142.40" y2="229.48" stroke="#000" stroke-width="0.4"/><line x1="141.50" y1="225.82" x2="142.40" y2="225.82" stroke="#000" stroke-width="0.4"/><line x1="141.50" y1="222.16" x2="142.40" y2="222.16" stroke="#000" stroke-width="0.4"/><line x1="141.50" y1="218.50" x2="142.40" y2="218.50" stroke="#000" stroke-width="0.4"/><line x1="141.50" y1="214.84" x2="142.40" y2="214.84" stroke="#000" stroke-width="0.4"/><line x1="141.50" y1="211.18" x2="142.40" y2="211.18" stroke="#000" stroke-width="0.4"/><line x1="141.50" y1="207.52" x2="142.40" y2="207.52" stroke="#000" stroke-width="0.4"/><line x1="141.50" y1="203.86" x2="142.40" y2="203.86" stroke="#000" stroke-width="0.4"/><line x1="141.50" y1="200.20" x2="142.40" y2="200.20" stroke="#000" stroke-width="0.4"/><line x1="141.50" y1="196.54" x2="142.40" y2="196.54" stroke="#000" stroke-width="0.4"/><line x1="141.50" y1="192.88" x2="142.40" y2="192.88" stroke="#000" stroke-width="0.4"/><line x1="141.50" y1="189.22" x2="142.40" y2="189.22" stroke="#000" stroke-width="0.4"/><line x1="141.50" y1="185.56" x2="142.40" y2="185.56" stroke="#000" stroke-width="0.4"/><line x1="141.50" y1="181.90" x2="142.40" y2="181.90" stroke="#000" stroke-width="0.4"/><line x1="141.50" y1="178.24" x2="142.40" y2="178.24" stroke="#000" stroke-width="0.4"/><line x1="141.50" y1="174.58" x2="142.40" y2="174.58" stroke="#000" stroke-width="0.4"/><line x1="141.50" y1="170.92" x2="142.40" y2="170.92" stroke="#000" stroke-width="0.4"/><line x1="141.50" y1="167.26" x2="142.40" y2="167.26" stroke="#000" stroke-width="0.4"/><line x1="141.50" y1="163.60" x2="142.40" y2="163.60" stroke="#000" stroke-width="0.4"/><line x1="141.50" y1="159.94" x2="142.40" y2="159.94" stroke="#000" stroke-width="0.4"/><line x1="141.50" y1="156.28" x2="142.40" y2="156.28" stroke="#000" stroke-width="0.4"/><line x1="141.50" y1="152.62" x2="142.40" y2="152.62" stroke="#000" stroke-width="0.4"/><line x1="141.50" y1="148.96" x2="142.40" y2="148.96" stroke="#000" stroke-width="0.4"/><line x1="141.50" y1="145.30" x2="142.40" y2="145.30" stroke="#000" stroke-width="0.4"/><line x1="141.50" y1="141.64" x2="142.40" y2="141.64" stroke="#000" stroke-width="0.4"/><line x1="141.50" y1="137.98" x2="142.40" y2="137.98" stroke="#000" stroke-width="0.4"/><line x1="141.50" y1="134.32" x2="142.40" y2="134.32" stroke="#000" stroke-width="0.4"/><line x1="141.50" y1="130.66" x2="142.40" y2="130.66" stroke="#000" stroke-width="0.4"/>
<text x="149.80" y="247.70" font-size="8.3" text-anchor="middle" fill="#000" >−0.45</text>
<text x="181.80" y="247.70" font-size="8.3" text-anchor="middle" fill="#000" >−0.40</text>
<text x="213.80" y="247.70" font-size="8.3" text-anchor="middle" fill="#000" >−0.35</text>
<line x1="149.80" y1="235.80" x2="149.80" y2="234.30" stroke="#000" stroke-width="0.5"/><line x1="181.80" y1="235.80" x2="181.80" y2="234.30" stroke="#000" stroke-width="0.5"/><line x1="213.80" y1="235.80" x2="213.80" y2="234.30" stroke="#000" stroke-width="0.5"/><line x1="245.80" y1="235.80" x2="245.80" y2="234.30" stroke="#000" stroke-width="0.5"/>
<line x1="143.40" y1="235.80" x2="143.40" y2="234.90" stroke="#000" stroke-width="0.4"/><line x1="149.80" y1="235.80" x2="149.80" y2="234.90" stroke="#000" stroke-width="0.4"/><line x1="156.20" y1="235.80" x2="156.20" y2="234.90" stroke="#000" stroke-width="0.4"/><line x1="162.60" y1="235.80" x2="162.60" y2="234.90" stroke="#000" stroke-width="0.4"/><line x1="169.00" y1="235.80" x2="169.00" y2="234.90" stroke="#000" stroke-width="0.4"/><line x1="175.40" y1="235.80" x2="175.40" y2="234.90" stroke="#000" stroke-width="0.4"/><line x1="181.80" y1="235.80" x2="181.80" y2="234.90" stroke="#000" stroke-width="0.4"/><line x1="188.20" y1="235.80" x2="188.20" y2="234.90" stroke="#000" stroke-width="0.4"/><line x1="194.60" y1="235.80" x2="194.60" y2="234.90" stroke="#000" stroke-width="0.4"/><line x1="201.00" y1="235.80" x2="201.00" y2="234.90" stroke="#000" stroke-width="0.4"/><line x1="207.40" y1="235.80" x2="207.40" y2="234.90" stroke="#000" stroke-width="0.4"/><line x1="213.80" y1="235.80" x2="213.80" y2="234.90" stroke="#000" stroke-width="0.4"/><line x1="220.20" y1="235.80" x2="220.20" y2="234.90" stroke="#000" stroke-width="0.4"/><line x1="226.60" y1="235.80" x2="226.60" y2="234.90" stroke="#000" stroke-width="0.4"/><line x1="233.00" y1="235.80" x2="233.00" y2="234.90" stroke="#000" stroke-width="0.4"/><line x1="239.40" y1="235.80" x2="239.40" y2="234.90" stroke="#000" stroke-width="0.4"/><line x1="245.80" y1="235.80" x2="245.80" y2="234.90" stroke="#000" stroke-width="0.4"/>
<text x="140.80" y="119.90" font-size="8.2" text-anchor="middle" fill="#000" >Area</text>
<text x="257.90" y="240.00" font-size="9.5" text-anchor="middle" fill="#000" font-style="italic">α</text>
<rect x="533.1" y="55" width="147.6" height="148" fill="#ebebeb"/>
<g fill="none" stroke-width="1.45" stroke-linejoin="round">
<path d="M548.53 81.00 L549.16 81.03 L549.80 81.06 L550.43 81.09 L551.07 81.11 L551.70 81.14 L552.34 81.16 L552.97 81.19 L553.61 81.21 L554.24 81.24 L554.88 81.26 L555.51 81.28 L556.15 81.31 L556.78 81.33 L557.41 81.35 L558.05 81.38 L558.68 81.40 L559.32 81.42 L559.95 81.44 L560.58 81.46 L561.22 81.49 L561.85 81.51 L562.48 81.53 L563.12 81.55 L563.75 81.57 L564.38 81.59 L565.02 81.61 L565.65 81.64 L566.28 81.66 L566.92 81.68 L567.55 81.70 L568.18 81.72 L568.81 81.75 L569.45 81.77 L570.08 81.79 L570.71 81.82 L571.34 81.84 L571.97 81.86 L572.61 81.89 L573.24 81.91 L573.87 81.94 L574.50 81.96 L575.13 81.99 L575.77 82.02 L576.40 82.04 L577.03 82.07 L577.66 82.10 L578.29 82.13 L578.92 82.16 L579.55 82.19 L580.18 82.22 L580.82 82.25 L581.45 82.28 L582.08 82.31 L582.71 82.34 L583.34 82.38 L583.97 82.41 L584.60 82.45 L585.23 82.49 L585.86 82.52 L586.49 82.56 L587.12 82.60 L587.75 82.64 L588.38 82.68 L589.01 82.73 L589.64 82.77 L590.27 82.81 L590.90 82.86 L591.53 82.91 L592.16 82.95 L592.79 83.00 L593.42 83.05 L594.05 83.10 L594.68 83.16 L595.31 83.21 L595.94 83.26 L596.56 83.32 L597.19 83.38 L597.82 83.44 L598.45 83.50 L599.08 83.56 L599.71 83.62 L600.34 83.69 L600.97 83.75 L601.59 83.82 L602.22 83.89 L602.85 83.96 L603.48 84.03 L604.11 84.11 L604.73 84.18 L605.36 84.26 L605.99 84.34 L606.62 84.42 L607.25 84.50 L607.87 84.59 L608.50 84.67 L609.13 84.76 L609.76 84.85 L610.38 84.94 L611.01 85.03 L611.64 85.13 L612.27 85.23 L612.89 85.33 L613.52 85.43 L614.15 85.53 L614.77 85.64 L615.40 85.74 L616.03 85.85 L616.65 85.96 L617.28 86.08 L617.91 86.19 L618.53 86.31 L619.16 86.43 L619.79 86.56 L620.41 86.69 L621.04 86.82 L621.67 86.96 L622.29 87.11 L622.92 87.26 L623.54 87.41 L624.17 87.58 L624.79 87.74 L625.41 87.92 L626.03 88.10 L626.65 88.28 L627.27 88.48 L627.89 88.67 L628.50 88.88 L629.11 89.09 L629.72 89.31 L630.32 89.53 L630.92 89.76 L631.52 90.00 L632.12 90.24 L632.71 90.49 L633.29 90.75 L633.87 91.01 L634.45 91.28 L635.02 91.56 L635.59 91.84 L636.15 92.14 L636.70 92.44 L637.25 92.74 L637.80 93.06 L638.33 93.38 L638.86 93.71 L639.39 94.04 L639.90 94.39 L640.41 94.74 L640.91 95.10 L641.41 95.47 L641.89 95.85 L642.37 96.23 L642.84 96.62 L643.30 97.02 L643.75 97.43 L644.19 97.85 L644.62 98.28 L645.05 98.71 L645.46 99.15 L645.86 99.60 L646.25 100.06 L646.64 100.53 L647.01 101.01 L647.37 101.50 L647.72 101.99 L648.07 102.49 L648.40 103.00 L648.72 103.51 L649.04 104.03 L649.35 104.56 L649.64 105.10 L649.94 105.64 L650.22 106.19 L650.49 106.74 L650.76 107.30 L651.02 107.87 L651.27 108.44 L651.51 109.02 L651.75 109.60 L651.98 110.18 L652.20 110.77 L652.41 111.37 L652.62 111.97 L652.83 112.57 L653.03 113.18 L653.22 113.79 L653.40 114.40 L653.58 115.02 L653.76 115.64 L653.93 116.26 L654.09 116.88 L654.25 117.51 L654.41 118.14 L654.56 118.77 L654.71 119.40 L654.85 120.04 L654.99 120.67 L655.12 121.31 L655.26 121.94 L655.39 122.58 L655.51 123.22 L655.63 123.86 L655.75 124.50 L655.87 125.13 L655.98 125.77 L656.10 126.41 L656.21 127.05 L656.31 127.68 L656.42 128.32 L656.52 128.95 L656.62 129.59 L656.72 130.22 L656.82 130.85 L656.92 131.48 L657.01 132.12 L657.10 132.75 L657.19 133.38 L657.28 134.01 L657.36 134.64 L657.45 135.27 L657.53 135.90 L657.61 136.53 L657.69 137.15 L657.77 137.78 L657.84 138.41 L657.92 139.04 L657.99 139.66 L658.06 140.29 L658.13 140.91 L658.19 141.54 L658.26 142.17 L658.32 142.79 L658.38 143.42 L658.44 144.04 L658.50 144.67 L658.56 145.29 L658.62 145.92 L658.67 146.54 L658.73 147.17 L658.78 147.79 L658.83 148.41 L658.88 149.04 L658.93 149.66 L658.97 150.29 L659.02 150.91 L659.06 151.53 L659.11 152.16 L659.15 152.78 L659.19 153.41 L659.23 154.03 L659.27 154.66 L659.31 155.28 L659.35 155.90 L659.38 156.53 L659.42 157.15 L659.45 157.78 L659.48 158.41 L659.52 159.03 L659.55 159.66 L659.58 160.28 L659.61 160.91 L659.64 161.54 L659.67 162.16 L659.69 162.79 L659.72 163.42 L659.75 164.05 L659.77 164.68 L659.80 165.31 L659.82 165.94 L659.84 166.57 L659.87 167.20 L659.89 167.83 L659.91 168.46 L659.93 169.09 L659.95 169.72 L659.97 170.36 L659.99 170.99 L660.01 171.62 L660.03 172.26 L660.05 172.89 L660.07 173.53 L660.09 174.17 L660.11 174.80 L660.13 175.44 L660.14 176.08 L660.16 176.72 L660.18 177.36 L660.20 178.00 L660.21 178.64 L660.23 179.29 L660.25 179.93 L660.26 180.57 L660.28 181.22 L660.30 181.87 L660.31 182.51 L660.33 183.16 L660.35 183.81 L660.37 184.46 L660.38 185.11" stroke="#0000ff"/>
<path d="M548.48 80.62 L549.07 80.68 L549.65 80.72 L550.24 80.77 L550.82 80.82 L551.41 80.86 L551.99 80.90 L552.58 80.94 L553.16 80.98 L553.75 81.02 L554.33 81.06 L554.92 81.09 L555.50 81.12 L556.09 81.16 L556.67 81.19 L557.26 81.22 L557.84 81.24 L558.43 81.27 L559.02 81.30 L559.60 81.32 L560.19 81.35 L560.77 81.37 L561.36 81.39 L561.95 81.42 L562.53 81.44 L563.12 81.46 L563.71 81.48 L564.29 81.50 L564.88 81.51 L565.46 81.53 L566.05 81.55 L566.64 81.57 L567.22 81.58 L567.81 81.60 L568.40 81.62 L568.98 81.63 L569.57 81.65 L570.16 81.66 L570.75 81.68 L571.33 81.69 L571.92 81.71 L572.51 81.72 L573.09 81.74 L573.68 81.76 L574.27 81.77 L574.85 81.79 L575.44 81.80 L576.03 81.82 L576.61 81.84 L577.20 81.86 L577.79 81.87 L578.37 81.89 L578.96 81.91 L579.55 81.93 L580.13 81.95 L580.72 81.97 L581.31 81.99 L581.89 82.02 L582.48 82.04 L583.06 82.07 L583.65 82.09 L584.24 82.12 L584.82 82.14 L585.41 82.17 L586.00 82.20 L586.58 82.23 L587.17 82.27 L587.75 82.30 L588.34 82.33 L588.92 82.37 L589.51 82.41 L590.09 82.45 L590.68 82.49 L591.27 82.53 L591.85 82.57 L592.44 82.62 L593.02 82.67 L593.60 82.72 L594.19 82.77 L594.77 82.82 L595.36 82.88 L595.94 82.93 L596.53 82.99 L597.11 83.05 L597.69 83.11 L598.28 83.18 L598.86 83.25 L599.45 83.32 L600.03 83.39 L600.61 83.46 L601.19 83.54 L601.78 83.62 L602.36 83.70 L602.94 83.78 L603.53 83.87 L604.11 83.96 L604.69 84.05 L605.27 84.14 L605.85 84.24 L606.43 84.34 L607.02 84.44 L607.60 84.55 L608.18 84.66 L608.76 84.77 L609.34 84.89 L609.92 85.00 L610.50 85.13 L611.08 85.25 L611.66 85.38 L612.24 85.51 L612.82 85.64 L613.40 85.78 L613.98 85.92 L614.55 86.07 L615.13 86.22 L615.71 86.37 L616.28 86.52 L616.86 86.69 L617.43 86.85 L618.00 87.02 L618.57 87.20 L619.14 87.37 L619.70 87.56 L620.26 87.75 L620.82 87.94 L621.38 88.14 L621.93 88.35 L622.48 88.56 L623.03 88.78 L623.57 89.00 L624.11 89.23 L624.64 89.47 L625.17 89.71 L625.70 89.96 L626.22 90.22 L626.73 90.48 L627.24 90.75 L627.74 91.03 L628.24 91.32 L628.73 91.61 L629.22 91.91 L629.70 92.22 L630.17 92.54 L630.64 92.86 L631.09 93.20 L631.55 93.54 L631.99 93.89 L632.43 94.25 L632.86 94.62 L633.28 95.00 L633.69 95.39 L634.09 95.78 L634.49 96.19 L634.88 96.60 L635.26 97.02 L635.64 97.45 L636.00 97.89 L636.36 98.33 L636.71 98.78 L637.06 99.24 L637.39 99.70 L637.72 100.18 L638.05 100.65 L638.36 101.14 L638.67 101.63 L638.97 102.13 L639.26 102.63 L639.55 103.13 L639.83 103.65 L640.10 104.17 L640.37 104.69 L640.63 105.22 L640.88 105.75 L641.12 106.28 L641.36 106.83 L641.60 107.37 L641.82 107.92 L642.04 108.47 L642.25 109.03 L642.46 109.58 L642.66 110.14 L642.85 110.71 L643.04 111.28 L643.22 111.84 L643.40 112.42 L643.57 112.99 L643.73 113.56 L643.89 114.14 L644.04 114.72 L644.18 115.30 L644.33 115.88 L644.46 116.46 L644.59 117.04 L644.72 117.63 L644.84 118.21 L644.95 118.80 L645.07 119.38 L645.17 119.97 L645.28 120.56 L645.38 121.14 L645.48 121.73 L645.57 122.32 L645.67 122.91 L645.76 123.50 L645.84 124.09 L645.93 124.68 L646.01 125.27 L646.10 125.86 L646.18 126.44 L646.26 127.03 L646.33 127.62 L646.41 128.21 L646.48 128.79 L646.56 129.38 L646.63 129.97 L646.70 130.55 L646.77 131.14 L646.84 131.73 L646.91 132.31 L646.97 132.90 L647.04 133.48 L647.10 134.07 L647.16 134.65 L647.22 135.24 L647.28 135.82 L647.34 136.40 L647.40 136.99 L647.45 137.57 L647.51 138.15 L647.56 138.74 L647.61 139.32 L647.67 139.90 L647.72 140.49 L647.77 141.07 L647.82 141.65 L647.86 142.24 L647.91 142.82 L647.96 143.40 L648.00 143.98 L648.04 144.57 L648.09 145.15 L648.13 145.73 L648.17 146.31 L648.21 146.90 L648.25 147.48 L648.29 148.06 L648.32 148.64 L648.36 149.22 L648.40 149.81 L648.43 150.39 L648.47 150.97 L648.50 151.55 L648.53 152.14 L648.56 152.72 L648.59 153.30 L648.63 153.88 L648.65 154.47 L648.68 155.05 L648.71 155.63 L648.74 156.22 L648.77 156.80 L648.79 157.38 L648.82 157.97 L648.84 158.55 L648.87 159.13 L648.89 159.72 L648.92 160.30 L648.94 160.89 L648.96 161.47 L648.98 162.05 L649.00 162.64 L649.03 163.23 L649.05 163.81 L649.07 164.40 L649.09 164.98 L649.10 165.57 L649.12 166.15 L649.14 166.74 L649.16 167.33 L649.18 167.92 L649.19 168.50 L649.21 169.09 L649.23 169.68 L649.24 170.27 L649.26 170.86 L649.28 171.45 L649.29 172.04 L649.31 172.63 L649.32 173.22 L649.34 173.81 L649.35 174.40 L649.37 174.99 L649.38 175.58 L649.39 176.17 L649.41 176.77 L649.42 177.36 L649.44 177.95 L649.45 178.55 L649.46 179.14 L649.48 179.74" stroke="#000000"/>
<path d="M548.59 80.48 L549.15 80.52 L549.70 80.57 L550.25 80.61 L550.81 80.65 L551.36 80.69 L551.92 80.73 L552.47 80.76 L553.03 80.80 L553.58 80.83 L554.14 80.86 L554.70 80.89 L555.25 80.92 L555.81 80.95 L556.37 80.98 L556.92 81.00 L557.48 81.03 L558.04 81.05 L558.60 81.08 L559.16 81.10 L559.72 81.12 L560.27 81.14 L560.83 81.16 L561.39 81.18 L561.95 81.20 L562.51 81.21 L563.07 81.23 L563.63 81.25 L564.19 81.26 L564.75 81.28 L565.31 81.29 L565.87 81.31 L566.43 81.32 L566.99 81.33 L567.56 81.35 L568.12 81.36 L568.68 81.37 L569.24 81.39 L569.80 81.40 L570.36 81.41 L570.92 81.43 L571.49 81.44 L572.05 81.45 L572.61 81.47 L573.17 81.48 L573.73 81.49 L574.30 81.51 L574.86 81.52 L575.42 81.54 L575.98 81.55 L576.54 81.57 L577.11 81.59 L577.67 81.61 L578.23 81.62 L578.79 81.64 L579.35 81.66 L579.92 81.68 L580.48 81.70 L581.04 81.73 L581.60 81.75 L582.16 81.77 L582.73 81.80 L583.29 81.82 L583.85 81.85 L584.41 81.88 L584.97 81.91 L585.53 81.94 L586.10 81.97 L586.66 82.01 L587.22 82.04 L587.78 82.08 L588.34 82.12 L588.90 82.16 L589.46 82.20 L590.02 82.24 L590.58 82.29 L591.14 82.33 L591.70 82.38 L592.26 82.43 L592.82 82.48 L593.38 82.54 L593.94 82.59 L594.50 82.65 L595.06 82.71 L595.62 82.77 L596.17 82.84 L596.73 82.90 L597.29 82.97 L597.85 83.04 L598.41 83.12 L598.96 83.19 L599.52 83.27 L600.08 83.35 L600.63 83.44 L601.19 83.52 L601.74 83.61 L602.30 83.70 L602.86 83.80 L603.41 83.89 L603.96 83.99 L604.52 84.10 L605.07 84.20 L605.63 84.31 L606.18 84.42 L606.73 84.54 L607.28 84.65 L607.84 84.78 L608.39 84.90 L608.94 85.03 L609.49 85.16 L610.04 85.29 L610.59 85.43 L611.14 85.57 L611.69 85.71 L612.24 85.86 L612.78 86.02 L613.33 86.17 L613.87 86.34 L614.41 86.50 L614.95 86.68 L615.49 86.85 L616.02 87.04 L616.55 87.23 L617.08 87.42 L617.60 87.62 L618.12 87.83 L618.63 88.05 L619.14 88.27 L619.65 88.50 L620.15 88.74 L620.64 88.99 L621.13 89.24 L621.61 89.51 L622.09 89.78 L622.56 90.06 L623.02 90.35 L623.48 90.65 L623.93 90.95 L624.38 91.27 L624.82 91.59 L625.25 91.92 L625.67 92.26 L626.09 92.61 L626.50 92.96 L626.91 93.33 L627.31 93.70 L627.70 94.07 L628.08 94.46 L628.46 94.85 L628.84 95.25 L629.20 95.65 L629.56 96.06 L629.91 96.48 L630.26 96.90 L630.60 97.33 L630.93 97.77 L631.25 98.21 L631.57 98.66 L631.88 99.11 L632.19 99.57 L632.48 100.04 L632.77 100.50 L633.06 100.98 L633.33 101.46 L633.60 101.94 L633.87 102.43 L634.12 102.93 L634.37 103.42 L634.61 103.93 L634.85 104.43 L635.08 104.94 L635.30 105.46 L635.51 105.97 L635.72 106.50 L635.92 107.02 L636.11 107.55 L636.29 108.08 L636.47 108.61 L636.64 109.15 L636.80 109.69 L636.96 110.23 L637.11 110.78 L637.25 111.33 L637.39 111.88 L637.52 112.43 L637.64 112.98 L637.76 113.54 L637.87 114.09 L637.98 114.65 L638.08 115.21 L638.18 115.77 L638.27 116.34 L638.36 116.90 L638.45 117.46 L638.54 118.03 L638.62 118.60 L638.69 119.16 L638.77 119.73 L638.84 120.29 L638.92 120.86 L638.99 121.43 L639.06 121.99 L639.12 122.56 L639.19 123.12 L639.26 123.69 L639.32 124.25 L639.39 124.82 L639.45 125.38 L639.51 125.95 L639.58 126.51 L639.64 127.07 L639.70 127.64 L639.76 128.20 L639.82 128.76 L639.87 129.32 L639.93 129.89 L639.99 130.45 L640.04 131.01 L640.09 131.57 L640.15 132.13 L640.20 132.69 L640.25 133.25 L640.30 133.81 L640.35 134.37 L640.40 134.93 L640.45 135.49 L640.50 136.05 L640.55 136.61 L640.59 137.17 L640.64 137.73 L640.68 138.29 L640.73 138.85 L640.77 139.40 L640.81 139.96 L640.85 140.52 L640.89 141.08 L640.93 141.64 L640.97 142.20 L641.01 142.75 L641.05 143.31 L641.09 143.87 L641.13 144.43 L641.16 144.98 L641.20 145.54 L641.23 146.10 L641.27 146.66 L641.30 147.21 L641.34 147.77 L641.37 148.33 L641.40 148.89 L641.43 149.44 L641.46 150.00 L641.49 150.56 L641.52 151.12 L641.55 151.67 L641.58 152.23 L641.61 152.79 L641.64 153.35 L641.66 153.90 L641.69 154.46 L641.71 155.02 L641.74 155.58 L641.76 156.14 L641.79 156.69 L641.81 157.25 L641.84 157.81 L641.86 158.37 L641.88 158.93 L641.90 159.49 L641.92 160.05 L641.95 160.61 L641.97 161.16 L641.99 161.72 L642.01 162.28 L642.02 162.84 L642.04 163.40 L642.06 163.96 L642.08 164.52 L642.10 165.09 L642.12 165.65 L642.13 166.21 L642.15 166.77 L642.16 167.33 L642.18 167.89 L642.20 168.45 L642.21 169.02 L642.23 169.58 L642.24 170.14 L642.25 170.71 L642.27 171.27 L642.28 171.83 L642.29 172.40 L642.31 172.96 L642.32 173.53 L642.33 174.09 L642.34 174.66 L642.36 175.22 L642.37 175.79 L642.38 176.36 L642.39 176.92" stroke="#ff0000"/>
<path d="M548.63 80.63 L549.17 80.63 L549.71 80.63 L550.25 80.63 L550.78 80.63 L551.32 80.63 L551.86 80.63 L552.40 80.63 L552.94 80.63 L553.48 80.64 L554.02 80.64 L554.55 80.64 L555.09 80.65 L555.63 80.65 L556.17 80.66 L556.71 80.67 L557.25 80.67 L557.79 80.68 L558.33 80.69 L558.87 80.70 L559.40 80.71 L559.94 80.72 L560.48 80.73 L561.02 80.74 L561.56 80.75 L562.10 80.76 L562.64 80.78 L563.18 80.79 L563.72 80.81 L564.26 80.82 L564.79 80.84 L565.33 80.85 L565.87 80.87 L566.41 80.89 L566.95 80.90 L567.49 80.92 L568.03 80.94 L568.57 80.96 L569.11 80.98 L569.64 81.00 L570.18 81.02 L570.72 81.04 L571.26 81.07 L571.80 81.09 L572.34 81.11 L572.87 81.14 L573.41 81.16 L573.95 81.19 L574.49 81.21 L575.03 81.24 L575.56 81.27 L576.10 81.29 L576.64 81.32 L577.17 81.35 L577.71 81.38 L578.25 81.41 L578.79 81.44 L579.32 81.47 L579.86 81.50 L580.40 81.53 L580.93 81.57 L581.47 81.60 L582.00 81.63 L582.54 81.67 L583.08 81.70 L583.61 81.74 L584.15 81.77 L584.68 81.81 L585.22 81.85 L585.75 81.89 L586.29 81.92 L586.82 81.96 L587.35 82.00 L587.89 82.04 L588.42 82.08 L588.95 82.12 L589.49 82.17 L590.02 82.21 L590.55 82.25 L591.09 82.30 L591.62 82.35 L592.15 82.40 L592.69 82.45 L593.22 82.50 L593.75 82.55 L594.28 82.61 L594.82 82.66 L595.35 82.72 L595.88 82.79 L596.41 82.85 L596.94 82.92 L597.48 82.98 L598.01 83.06 L598.54 83.13 L599.07 83.21 L599.61 83.29 L600.14 83.37 L600.67 83.46 L601.20 83.55 L601.74 83.64 L602.27 83.73 L602.80 83.83 L603.34 83.94 L603.87 84.04 L604.40 84.15 L604.94 84.27 L605.47 84.39 L606.01 84.51 L606.54 84.64 L607.07 84.77 L607.61 84.91 L608.14 85.05 L608.68 85.19 L609.21 85.34 L609.75 85.50 L610.29 85.66 L610.82 85.82 L611.35 86.00 L611.88 86.17 L612.41 86.36 L612.93 86.54 L613.46 86.74 L613.97 86.94 L614.49 87.15 L614.99 87.36 L615.50 87.59 L615.99 87.82 L616.48 88.05 L616.97 88.30 L617.44 88.55 L617.91 88.81 L618.37 89.08 L618.82 89.35 L619.26 89.64 L619.69 89.93 L620.12 90.23 L620.53 90.54 L620.94 90.86 L621.33 91.18 L621.72 91.52 L622.10 91.86 L622.47 92.21 L622.83 92.56 L623.18 92.92 L623.53 93.29 L623.86 93.67 L624.19 94.05 L624.51 94.44 L624.83 94.84 L625.13 95.24 L625.43 95.65 L625.72 96.07 L626.00 96.49 L626.28 96.92 L626.55 97.35 L626.81 97.79 L627.07 98.23 L627.32 98.68 L627.56 99.14 L627.79 99.60 L628.02 100.06 L628.25 100.53 L628.46 101.01 L628.68 101.49 L628.88 101.97 L629.08 102.46 L629.27 102.95 L629.46 103.44 L629.65 103.94 L629.82 104.44 L630.00 104.95 L630.16 105.46 L630.33 105.97 L630.48 106.49 L630.64 107.01 L630.79 107.53 L630.93 108.06 L631.07 108.58 L631.20 109.11 L631.34 109.65 L631.46 110.18 L631.59 110.72 L631.71 111.26 L631.82 111.80 L631.93 112.34 L632.04 112.88 L632.15 113.43 L632.25 113.97 L632.35 114.52 L632.45 115.07 L632.54 115.62 L632.63 116.17 L632.72 116.72 L632.81 117.27 L632.89 117.82 L632.97 118.37 L633.05 118.92 L633.13 119.47 L633.20 120.03 L633.28 120.58 L633.35 121.13 L633.42 121.68 L633.49 122.23 L633.55 122.77 L633.62 123.32 L633.69 123.87 L633.75 124.41 L633.81 124.96 L633.87 125.50 L633.93 126.04 L633.99 126.59 L634.05 127.13 L634.10 127.67 L634.16 128.21 L634.21 128.75 L634.26 129.29 L634.32 129.83 L634.37 130.37 L634.42 130.91 L634.46 131.44 L634.51 131.98 L634.56 132.52 L634.60 133.05 L634.65 133.59 L634.69 134.12 L634.73 134.66 L634.77 135.19 L634.81 135.72 L634.85 136.26 L634.89 136.79 L634.93 137.32 L634.97 137.85 L635.00 138.39 L635.04 138.92 L635.07 139.45 L635.10 139.98 L635.14 140.51 L635.17 141.04 L635.20 141.57 L635.23 142.10 L635.26 142.63 L635.29 143.16 L635.32 143.69 L635.34 144.22 L635.37 144.75 L635.40 145.28 L635.42 145.81 L635.45 146.34 L635.47 146.87 L635.50 147.40 L635.52 147.93 L635.55 148.46 L635.57 148.99 L635.59 149.53 L635.61 150.06 L635.63 150.59 L635.65 151.12 L635.67 151.65 L635.69 152.18 L635.71 152.71 L635.73 153.24 L635.75 153.78 L635.77 154.31 L635.79 154.84 L635.81 155.37 L635.83 155.91 L635.84 156.44 L635.86 156.97 L635.88 157.51 L635.89 158.04 L635.91 158.58 L635.93 159.12 L635.94 159.65 L635.96 160.19 L635.98 160.73 L635.99 161.26 L636.01 161.80 L636.02 162.34 L636.04 162.88 L636.06 163.42 L636.07 163.96 L636.09 164.50 L636.10 165.05 L636.12 165.59 L636.14 166.13 L636.15 166.68 L636.17 167.22 L636.18 167.77 L636.20 168.32 L636.22 168.86 L636.23 169.41 L636.25 169.96 L636.27 170.51 L636.29 171.06 L636.30 171.61 L636.32 172.17 L636.34 172.72 L636.36 173.28 L636.38 173.83 L636.40 174.39" stroke="#ff8000"/>
<path d="M548.47 80.78 L549.08 80.82 L549.69 80.86 L550.29 80.90 L550.90 80.94 L551.51 80.97 L552.11 81.01 L552.72 81.04 L553.33 81.07 L553.94 81.10 L554.54 81.14 L555.15 81.16 L555.76 81.19 L556.36 81.22 L556.97 81.25 L557.58 81.27 L558.19 81.30 L558.79 81.32 L559.40 81.35 L560.01 81.37 L560.61 81.39 L561.22 81.42 L561.83 81.44 L562.44 81.46 L563.04 81.48 L563.65 81.50 L564.26 81.52 L564.86 81.54 L565.47 81.56 L566.08 81.58 L566.68 81.60 L567.29 81.62 L567.90 81.64 L568.50 81.66 L569.11 81.68 L569.72 81.70 L570.32 81.71 L570.93 81.73 L571.53 81.75 L572.14 81.77 L572.75 81.79 L573.35 81.81 L573.96 81.83 L574.57 81.85 L575.17 81.87 L575.78 81.89 L576.38 81.91 L576.99 81.94 L577.59 81.96 L578.20 81.98 L578.81 82.00 L579.41 82.03 L580.02 82.05 L580.62 82.08 L581.23 82.10 L581.83 82.13 L582.44 82.16 L583.04 82.19 L583.65 82.22 L584.25 82.25 L584.86 82.28 L585.46 82.31 L586.07 82.34 L586.67 82.38 L587.28 82.41 L587.88 82.45 L588.49 82.49 L589.09 82.53 L589.70 82.57 L590.30 82.61 L590.90 82.65 L591.51 82.70 L592.11 82.74 L592.72 82.79 L593.32 82.84 L593.92 82.89 L594.53 82.94 L595.13 82.99 L595.73 83.05 L596.34 83.11 L596.94 83.16 L597.54 83.22 L598.15 83.29 L598.75 83.35 L599.35 83.42 L599.95 83.48 L600.56 83.55 L601.16 83.63 L601.76 83.70 L602.36 83.77 L602.97 83.85 L603.57 83.93 L604.17 84.01 L604.77 84.10 L605.37 84.18 L605.97 84.27 L606.57 84.36 L607.18 84.46 L607.78 84.55 L608.38 84.65 L608.98 84.75 L609.58 84.86 L610.18 84.96 L610.78 85.07 L611.38 85.18 L611.98 85.30 L612.58 85.41 L613.18 85.53 L613.78 85.66 L614.38 85.78 L614.98 85.91 L615.58 86.04 L616.18 86.17 L616.78 86.31 L617.38 86.45 L617.97 86.60 L618.57 86.75 L619.17 86.90 L619.76 87.06 L620.36 87.23 L620.95 87.40 L621.54 87.58 L622.13 87.76 L622.72 87.95 L623.30 88.15 L623.89 88.35 L624.47 88.56 L625.05 88.78 L625.62 89.00 L626.19 89.23 L626.76 89.46 L627.32 89.70 L627.88 89.95 L628.44 90.21 L628.99 90.47 L629.53 90.74 L630.07 91.01 L630.61 91.30 L631.14 91.59 L631.66 91.88 L632.18 92.19 L632.69 92.50 L633.20 92.82 L633.70 93.14 L634.19 93.48 L634.67 93.82 L635.15 94.17 L635.62 94.52 L636.08 94.89 L636.53 95.26 L636.98 95.64 L637.41 96.03 L637.84 96.42 L638.26 96.82 L638.67 97.23 L639.07 97.65 L639.46 98.08 L639.84 98.52 L640.20 98.96 L640.56 99.41 L640.91 99.87 L641.25 100.34 L641.58 100.81 L641.90 101.30 L642.21 101.79 L642.51 102.28 L642.80 102.79 L643.08 103.30 L643.35 103.81 L643.62 104.34 L643.87 104.87 L644.12 105.40 L644.36 105.94 L644.60 106.49 L644.82 107.04 L645.04 107.60 L645.25 108.16 L645.46 108.72 L645.65 109.30 L645.84 109.87 L646.03 110.45 L646.21 111.03 L646.38 111.62 L646.55 112.21 L646.71 112.80 L646.86 113.40 L647.01 114.00 L647.16 114.60 L647.30 115.21 L647.44 115.82 L647.57 116.43 L647.70 117.04 L647.82 117.65 L647.94 118.27 L648.06 118.88 L648.17 119.50 L648.28 120.12 L648.38 120.74 L648.49 121.36 L648.59 121.98 L648.69 122.60 L648.78 123.22 L648.88 123.84 L648.97 124.46 L649.06 125.08 L649.15 125.70 L649.24 126.31 L649.32 126.93 L649.41 127.55 L649.49 128.16 L649.58 128.78 L649.66 129.39 L649.74 130.00 L649.82 130.61 L649.90 131.22 L649.98 131.83 L650.05 132.44 L650.13 133.05 L650.20 133.65 L650.27 134.26 L650.35 134.86 L650.42 135.47 L650.49 136.07 L650.55 136.67 L650.62 137.28 L650.69 137.88 L650.75 138.48 L650.82 139.08 L650.88 139.68 L650.94 140.28 L651.00 140.88 L651.06 141.48 L651.12 142.08 L651.18 142.68 L651.24 143.28 L651.29 143.87 L651.35 144.47 L651.40 145.07 L651.45 145.66 L651.50 146.26 L651.55 146.86 L651.60 147.45 L651.65 148.05 L651.70 148.64 L651.75 149.24 L651.79 149.84 L651.84 150.43 L651.88 151.03 L651.93 151.62 L651.97 152.22 L652.01 152.81 L652.05 153.41 L652.09 154.01 L652.13 154.60 L652.16 155.20 L652.20 155.79 L652.24 156.39 L652.27 156.99 L652.30 157.59 L652.34 158.18 L652.37 158.78 L652.40 159.38 L652.43 159.98 L652.46 160.58 L652.49 161.18 L652.52 161.77 L652.54 162.37 L652.57 162.98 L652.60 163.58 L652.62 164.18 L652.64 164.78 L652.67 165.38 L652.69 165.99 L652.71 166.59 L652.73 167.20 L652.75 167.80 L652.77 168.41 L652.79 169.02 L652.80 169.62 L652.82 170.23 L652.84 170.84 L652.85 171.45 L652.87 172.06 L652.88 172.68 L652.89 173.29 L652.90 173.90 L652.92 174.52 L652.93 175.13 L652.94 175.75 L652.95 176.37 L652.95 176.99 L652.96 177.61 L652.97 178.23 L652.98 178.85 L652.98 179.48 L652.99 180.10 L652.99 180.73 L653.00 181.36 L653.00 181.99 L653.00 182.62" stroke="#00ffff"/>
<path d="M548.54 80.10 L549.04 80.10 L549.53 80.09 L550.02 80.09 L550.51 80.08 L551.00 80.08 L551.49 80.07 L551.98 80.07 L552.47 80.06 L552.95 80.06 L553.44 80.06 L553.92 80.06 L554.41 80.06 L554.89 80.06 L555.37 80.06 L555.85 80.06 L556.34 80.06 L556.82 80.07 L557.29 80.07 L557.77 80.07 L558.25 80.08 L558.73 80.08 L559.21 80.09 L559.68 80.09 L560.16 80.10 L560.63 80.11 L561.11 80.12 L561.58 80.13 L562.06 80.13 L562.53 80.14 L563.00 80.15 L563.48 80.17 L563.95 80.18 L564.42 80.19 L564.89 80.20 L565.37 80.21 L565.84 80.23 L566.31 80.24 L566.78 80.26 L567.25 80.27 L567.72 80.29 L568.19 80.31 L568.66 80.32 L569.13 80.34 L569.60 80.36 L570.07 80.38 L570.54 80.40 L571.01 80.42 L571.48 80.44 L571.95 80.46 L572.42 80.48 L572.89 80.50 L573.36 80.53 L573.83 80.55 L574.30 80.57 L574.77 80.60 L575.24 80.62 L575.71 80.65 L576.18 80.68 L576.65 80.70 L577.12 80.73 L577.59 80.76 L578.07 80.79 L578.54 80.82 L579.01 80.85 L579.49 80.88 L579.96 80.91 L580.43 80.94 L580.91 80.97 L581.38 81.00 L581.86 81.04 L582.33 81.07 L582.81 81.10 L583.29 81.14 L583.77 81.17 L584.24 81.21 L584.72 81.24 L585.20 81.28 L585.68 81.32 L586.16 81.36 L586.64 81.40 L587.13 81.44 L587.61 81.48 L588.09 81.52 L588.57 81.56 L589.05 81.61 L589.54 81.66 L590.02 81.71 L590.50 81.76 L590.98 81.81 L591.47 81.86 L591.95 81.92 L592.43 81.98 L592.91 82.05 L593.39 82.11 L593.87 82.18 L594.35 82.25 L594.83 82.32 L595.30 82.40 L595.78 82.48 L596.25 82.57 L596.73 82.65 L597.20 82.75 L597.67 82.84 L598.14 82.94 L598.61 83.04 L599.08 83.15 L599.55 83.26 L600.01 83.38 L600.47 83.50 L600.94 83.63 L601.40 83.76 L601.85 83.90 L602.31 84.04 L602.76 84.18 L603.21 84.34 L603.66 84.49 L604.11 84.66 L604.56 84.83 L605.00 85.00 L605.44 85.18 L605.88 85.37 L606.31 85.56 L606.73 85.76 L607.16 85.97 L607.57 86.19 L607.99 86.41 L608.39 86.64 L608.79 86.88 L609.18 87.13 L609.56 87.38 L609.94 87.64 L610.30 87.91 L610.66 88.19 L611.02 88.47 L611.36 88.76 L611.70 89.06 L612.04 89.37 L612.36 89.68 L612.68 90.00 L612.99 90.32 L613.30 90.66 L613.60 90.99 L613.89 91.34 L614.18 91.69 L614.46 92.04 L614.74 92.41 L615.01 92.77 L615.27 93.15 L615.53 93.52 L615.78 93.91 L616.02 94.29 L616.26 94.69 L616.50 95.09 L616.73 95.49 L616.95 95.89 L617.17 96.31 L617.38 96.72 L617.59 97.14 L617.80 97.56 L617.99 97.99 L618.19 98.42 L618.38 98.85 L618.56 99.29 L618.74 99.73 L618.92 100.17 L619.09 100.62 L619.25 101.07 L619.42 101.52 L619.58 101.98 L619.73 102.43 L619.88 102.89 L620.03 103.35 L620.17 103.81 L620.31 104.28 L620.44 104.75 L620.58 105.21 L620.71 105.68 L620.83 106.15 L620.95 106.62 L621.07 107.10 L621.19 107.57 L621.30 108.04 L621.41 108.52 L621.52 108.99 L621.62 109.47 L621.72 109.94 L621.82 110.42 L621.92 110.89 L622.01 111.37 L622.10 111.84 L622.19 112.32 L622.28 112.79 L622.36 113.27 L622.44 113.75 L622.52 114.22 L622.60 114.70 L622.67 115.17 L622.75 115.65 L622.82 116.12 L622.89 116.60 L622.95 117.07 L623.02 117.55 L623.08 118.02 L623.14 118.50 L623.20 118.97 L623.25 119.45 L623.31 119.92 L623.36 120.40 L623.41 120.87 L623.46 121.35 L623.51 121.82 L623.56 122.30 L623.60 122.77 L623.64 123.25 L623.68 123.72 L623.72 124.20 L623.76 124.67 L623.80 125.15 L623.83 125.62 L623.87 126.10 L623.90 126.57 L623.93 127.05 L623.96 127.52 L623.99 128.00 L624.01 128.47 L624.04 128.95 L624.06 129.42 L624.09 129.90 L624.11 130.38 L624.13 130.85 L624.15 131.33 L624.17 131.80 L624.19 132.28 L624.21 132.75 L624.22 133.23 L624.24 133.70 L624.25 134.18 L624.27 134.65 L624.28 135.13 L624.30 135.60 L624.31 136.08 L624.32 136.55 L624.33 137.03 L624.34 137.51 L624.35 137.98 L624.36 138.46 L624.37 138.93 L624.38 139.41 L624.38 139.88 L624.39 140.36 L624.40 140.83 L624.41 141.31 L624.41 141.79 L624.42 142.26 L624.43 142.74 L624.43 143.21 L624.44 143.69 L624.45 144.16 L624.45 144.64 L624.46 145.12 L624.46 145.59 L624.47 146.07 L624.48 146.54 L624.48 147.02 L624.49 147.50 L624.50 147.97 L624.50 148.45 L624.51 148.92 L624.52 149.40 L624.53 149.88 L624.54 150.35 L624.55 150.83 L624.56 151.30 L624.57 151.78 L624.58 152.26 L624.59 152.73 L624.60 153.21 L624.61 153.69 L624.62 154.16 L624.64 154.64 L624.65 155.12 L624.67 155.59 L624.68 156.07 L624.70 156.55 L624.72 157.02 L624.74 157.50 L624.76 157.98 L624.78 158.45 L624.80 158.93 L624.82 159.41 L624.85 159.88 L624.87 160.36 L624.90 160.84 L624.93 161.32 L624.96 161.79 L624.99 162.27 L625.02 162.75 L625.05 163.23 L625.09 163.70" stroke="#ff00ff"/>
<path d="M548.99 80.05 L549.48 80.10 L549.97 80.14 L550.46 80.18 L550.95 80.22 L551.44 80.26 L551.93 80.30 L552.43 80.33 L552.92 80.37 L553.42 80.40 L553.91 80.43 L554.41 80.45 L554.90 80.48 L555.40 80.51 L555.90 80.53 L556.40 80.55 L556.90 80.58 L557.40 80.60 L557.90 80.61 L558.40 80.63 L558.90 80.65 L559.40 80.67 L559.90 80.68 L560.41 80.70 L560.91 80.71 L561.42 80.72 L561.92 80.73 L562.43 80.74 L562.93 80.75 L563.44 80.76 L563.94 80.77 L564.45 80.78 L564.96 80.79 L565.46 80.80 L565.97 80.81 L566.48 80.82 L566.99 80.82 L567.50 80.83 L568.01 80.84 L568.52 80.84 L569.03 80.85 L569.54 80.86 L570.05 80.86 L570.56 80.87 L571.07 80.88 L571.58 80.89 L572.09 80.90 L572.60 80.90 L573.11 80.91 L573.62 80.92 L574.13 80.93 L574.64 80.94 L575.15 80.95 L575.66 80.96 L576.18 80.98 L576.69 80.99 L577.20 81.00 L577.71 81.02 L578.22 81.03 L578.73 81.05 L579.24 81.07 L579.75 81.09 L580.26 81.11 L580.77 81.13 L581.29 81.15 L581.80 81.17 L582.31 81.20 L582.82 81.23 L583.33 81.25 L583.84 81.28 L584.34 81.31 L584.85 81.35 L585.36 81.38 L585.87 81.42 L586.38 81.45 L586.89 81.49 L587.39 81.53 L587.90 81.58 L588.41 81.62 L588.91 81.67 L589.42 81.72 L589.93 81.77 L590.43 81.82 L590.94 81.88 L591.44 81.94 L591.94 82.00 L592.45 82.06 L592.95 82.12 L593.45 82.19 L593.95 82.26 L594.45 82.33 L594.95 82.41 L595.45 82.49 L595.95 82.57 L596.45 82.65 L596.95 82.74 L597.45 82.83 L597.94 82.92 L598.44 83.01 L598.94 83.11 L599.43 83.21 L599.92 83.32 L600.42 83.42 L600.91 83.54 L601.40 83.65 L601.89 83.77 L602.38 83.89 L602.87 84.01 L603.36 84.14 L603.84 84.27 L604.33 84.41 L604.82 84.54 L605.30 84.69 L605.78 84.83 L606.27 84.98 L606.75 85.14 L607.23 85.29 L607.71 85.46 L608.18 85.63 L608.66 85.80 L609.13 85.98 L609.60 86.16 L610.06 86.35 L610.52 86.55 L610.98 86.76 L611.43 86.97 L611.88 87.19 L612.32 87.42 L612.76 87.65 L613.19 87.90 L613.62 88.15 L614.04 88.41 L614.46 88.68 L614.87 88.95 L615.28 89.24 L615.67 89.52 L616.07 89.82 L616.46 90.12 L616.84 90.44 L617.21 90.75 L617.58 91.08 L617.94 91.41 L618.30 91.75 L618.65 92.09 L618.99 92.44 L619.33 92.80 L619.66 93.16 L619.98 93.53 L620.30 93.91 L620.61 94.29 L620.91 94.68 L621.21 95.07 L621.50 95.47 L621.78 95.88 L622.05 96.29 L622.31 96.71 L622.57 97.13 L622.82 97.56 L623.06 97.99 L623.30 98.43 L623.52 98.87 L623.74 99.32 L623.95 99.77 L624.15 100.23 L624.35 100.69 L624.53 101.15 L624.71 101.63 L624.88 102.10 L625.04 102.58 L625.20 103.06 L625.34 103.55 L625.49 104.04 L625.62 104.53 L625.75 105.03 L625.87 105.53 L625.99 106.03 L626.10 106.53 L626.21 107.04 L626.31 107.55 L626.41 108.06 L626.50 108.57 L626.59 109.08 L626.68 109.59 L626.77 110.11 L626.85 110.63 L626.92 111.14 L627.00 111.66 L627.07 112.18 L627.14 112.69 L627.21 113.21 L627.28 113.73 L627.35 114.25 L627.41 114.76 L627.48 115.28 L627.54 115.79 L627.61 116.31 L627.67 116.82 L627.73 117.33 L627.79 117.85 L627.85 118.36 L627.91 118.87 L627.97 119.38 L628.03 119.89 L628.08 120.40 L628.14 120.91 L628.19 121.42 L628.25 121.93 L628.30 122.44 L628.35 122.95 L628.40 123.46 L628.45 123.97 L628.50 124.47 L628.55 124.98 L628.60 125.49 L628.65 125.99 L628.70 126.50 L628.74 127.00 L628.79 127.51 L628.83 128.01 L628.87 128.52 L628.92 129.02 L628.96 129.53 L629.00 130.03 L629.04 130.53 L629.08 131.04 L629.12 131.54 L629.16 132.04 L629.20 132.55 L629.24 133.05 L629.27 133.55 L629.31 134.05 L629.35 134.56 L629.38 135.06 L629.41 135.56 L629.45 136.06 L629.48 136.56 L629.51 137.07 L629.55 137.57 L629.58 138.07 L629.61 138.57 L629.64 139.07 L629.67 139.57 L629.70 140.07 L629.73 140.58 L629.75 141.08 L629.78 141.58 L629.81 142.08 L629.84 142.58 L629.86 143.08 L629.89 143.58 L629.91 144.09 L629.94 144.59 L629.96 145.09 L629.98 145.59 L630.01 146.09 L630.03 146.59 L630.05 147.10 L630.08 147.60 L630.10 148.10 L630.12 148.60 L630.14 149.11 L630.16 149.61 L630.18 150.11 L630.20 150.62 L630.22 151.12 L630.24 151.62 L630.26 152.13 L630.28 152.63 L630.29 153.14 L630.31 153.64 L630.33 154.15 L630.35 154.65 L630.36 155.16 L630.38 155.66 L630.40 156.17 L630.41 156.68 L630.43 157.18 L630.44 157.69 L630.46 158.20 L630.47 158.71 L630.49 159.22 L630.50 159.73 L630.52 160.24 L630.53 160.74 L630.55 161.26 L630.56 161.77 L630.57 162.28 L630.59 162.79 L630.60 163.30 L630.61 163.81 L630.63 164.33 L630.64 164.84 L630.65 165.35 L630.67 165.87 L630.68 166.39 L630.69 166.90 L630.70 167.42 L630.72 167.93 L630.73 168.45 L630.74 168.97" stroke="#800080"/>
</g>
<line x1="552.4" y1="190.5" x2="552.4" y2="73" stroke="#000" stroke-width="1.15"/>
<path d="M552.40 70.40 L553.70 74.40 L552.40 73.88 L551.10 74.40 Z" fill="#000"/>
<line x1="550.6" y1="190.0" x2="665.5" y2="190.0" stroke="#000" stroke-width="1.15"/>
<path d="M668.50 190.00 L664.50 188.70 L665.02 190.00 L664.50 191.30 Z" fill="#000"/>
<text x="549.80" y="90.90" font-size="8.3" text-anchor="end" fill="#000" >−0.6</text>
<text x="549.80" y="112.42" font-size="8.3" text-anchor="end" fill="#000" >−1</text>
<text x="549.80" y="139.32" font-size="8.3" text-anchor="end" fill="#000" >−1.5</text>
<text x="549.80" y="160.84" font-size="8.3" text-anchor="end" fill="#000" >−1.9</text>
<line x1="553.00" y1="87.50" x2="554.50" y2="87.50" stroke="#000" stroke-width="0.5"/><line x1="553.00" y1="109.02" x2="554.50" y2="109.02" stroke="#000" stroke-width="0.5"/><line x1="553.00" y1="135.92" x2="554.50" y2="135.92" stroke="#000" stroke-width="0.5"/><line x1="553.00" y1="157.44" x2="554.50" y2="157.44" stroke="#000" stroke-width="0.5"/>
<text x="570.40" y="201.40" font-size="8.3" text-anchor="middle" fill="#000" >−0.25</text>
<text x="588.90" y="201.40" font-size="8.3" text-anchor="middle" fill="#000" >−0.2</text>
<text x="607.40" y="201.40" font-size="8.3" text-anchor="middle" fill="#000" >−0.15</text>
<text x="625.90" y="201.40" font-size="8.3" text-anchor="middle" fill="#000" >−0.1</text>
<text x="644.40" y="201.40" font-size="8.3" text-anchor="middle" fill="#000" >−0.05</text>
<line x1="570.40" y1="189.50" x2="570.40" y2="188.00" stroke="#000" stroke-width="0.5"/><line x1="588.90" y1="189.50" x2="588.90" y2="188.00" stroke="#000" stroke-width="0.5"/><line x1="607.40" y1="189.50" x2="607.40" y2="188.00" stroke="#000" stroke-width="0.5"/><line x1="625.90" y1="189.50" x2="625.90" y2="188.00" stroke="#000" stroke-width="0.5"/><line x1="644.40" y1="189.50" x2="644.40" y2="188.00" stroke="#000" stroke-width="0.5"/>
<text x="552.30" y="64.30" font-size="8.2" text-anchor="middle" fill="#000" >Area</text>
<text x="678.40" y="193.90" font-size="9.5" text-anchor="middle" fill="#000" font-style="italic">α</text>
<line x1="729.1" y1="135.30" x2="745" y2="135.30" stroke="#0000ff" stroke-width="1.5"/>
<text x="750.7" y="139.10" font-size="10" font-style="italic">κ</text>
<text x="755.5" y="135.80" font-size="7.8">2</text>
<text x="760.6" y="139.10" font-size="9.9">=9</text>
<line x1="729.1" y1="154.40" x2="745" y2="154.40" stroke="#00ffff" stroke-width="1.5"/>
<text x="750.7" y="158.20" font-size="10" font-style="italic">κ</text>
<text x="755.5" y="154.90" font-size="7.8">2</text>
<text x="760.6" y="158.20" font-size="9.9">=0.8</text>
<line x1="729.1" y1="173.50" x2="745" y2="173.50" stroke="#000000" stroke-width="1.5"/>
<text x="750.7" y="177.30" font-size="10" font-style="italic">κ</text>
<text x="756.0" y="178.80" font-size="7.6" font-style="italic">s</text>
<text x="760.4" y="174.00" font-size="7.8">2</text>
<text x="764.9" y="177.30" font-size="9.9">=0.481332</text>
<line x1="729.1" y1="192.60" x2="745" y2="192.60" stroke="#ff0000" stroke-width="1.5"/>
<text x="750.7" y="196.40" font-size="10" font-style="italic">κ</text>
<text x="755.5" y="193.10" font-size="7.8">2</text>
<text x="760.6" y="196.40" font-size="9.9">=0.2</text>
<line x1="729.1" y1="211.70" x2="745" y2="211.70" stroke="#ff8000" stroke-width="1.5"/>
<text x="750.7" y="215.50" font-size="10" font-style="italic">κ</text>
<text x="755.5" y="212.20" font-size="7.8">2</text>
<text x="760.6" y="215.50" font-size="9.9">=0.1</text>
<line x1="729.1" y1="230.80" x2="745" y2="230.80" stroke="#800080" stroke-width="1.5"/>
<text x="750.7" y="234.60" font-size="10" font-style="italic">κ</text>
<text x="755.5" y="231.30" font-size="7.8">2</text>
<text x="760.6" y="234.60" font-size="9.9">=0.05</text>
<line x1="729.1" y1="249.90" x2="745" y2="249.90" stroke="#ff00ff" stroke-width="1.5"/>
<text x="750.7" y="253.70" font-size="10" font-style="italic">κ</text>
<text x="755.5" y="250.40" font-size="7.8">2</text>
<text x="760.6" y="253.70" font-size="9.9">=0.02</text>
</svg>
</body></html>
